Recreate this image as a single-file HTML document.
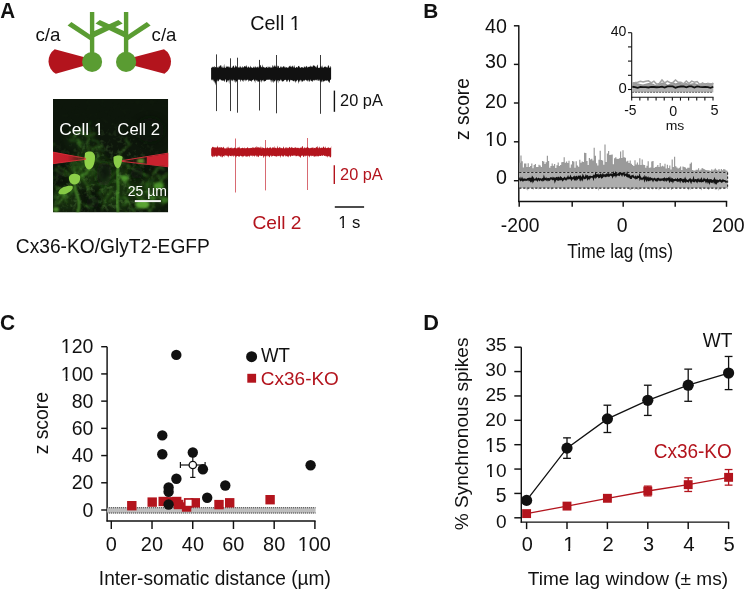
<!DOCTYPE html>
<html><head><meta charset="utf-8"><style>
html,body{margin:0;padding:0;background:#fff;width:745px;height:591px;overflow:hidden}
svg{display:block;will-change:transform}
text{font-family:"Liberation Sans",sans-serif}
</style></head><body>
<svg width="745" height="591" viewBox="0 0 745 591">
<defs><mask id="m1" maskUnits="userSpaceOnUse" x="0" y="0" width="745" height="591"><rect x="0" y="0" width="745" height="591" fill="#fff"/><g fill="#000"><rect x="94.43" y="132.44" width="3.87" height="3.30"/><rect x="100.08" y="132.44" width="3.54" height="3.30"/><rect x="290.39" y="27.44" width="4.30" height="3.56"/><rect x="296.68" y="27.44" width="3.95" height="3.56"/><rect x="338.54" y="225.17" width="3.75" height="3.36"/><rect x="344.00" y="225.17" width="3.42" height="3.36"/><rect x="485.57" y="143.69" width="4.28" height="3.57"/><rect x="491.83" y="143.69" width="3.93" height="3.57"/><rect x="61.33" y="378.06" width="4.26" height="3.56"/><rect x="67.56" y="378.06" width="3.90" height="3.56"/><rect x="61.33" y="350.85" width="4.26" height="3.56"/><rect x="67.56" y="350.85" width="3.90" height="3.56"/><rect x="298.27" y="548.31" width="4.33" height="3.59"/><rect x="304.60" y="548.31" width="3.98" height="3.59"/><rect x="485.61" y="449.21" width="4.23" height="3.55"/><rect x="491.79" y="449.21" width="3.88" height="3.55"/><rect x="485.83" y="474.53" width="4.18" height="3.53"/><rect x="491.94" y="474.53" width="3.83" height="3.53"/><rect x="563.74" y="548.17" width="4.44" height="3.63"/><rect x="570.23" y="548.17" width="4.07" height="3.63"/></g></mask></defs>
<text x="0.19" y="17.90" font-size="21.67" textLength="14.87" lengthAdjust="spacingAndGlyphs" fill="#111" font-weight="bold">A</text>
<line x1="92.10" y1="12.00" x2="92.10" y2="62.00" stroke="#5a9c32" stroke-width="4.4"/>
<line x1="126.10" y1="12.00" x2="126.10" y2="62.00" stroke="#5a9c32" stroke-width="4.4"/>
<polygon points="92.10,32.00 118.40,20.10 122.70,23.40 92.10,38.20" fill="#5a9c32"/>
<polygon points="126.10,32.00 99.80,20.10 95.50,23.40 126.10,38.20" fill="#5a9c32"/>
<polygon points="71.40,22.10 92.10,35.90 92.10,41.50 67.60,25.60" fill="#5a9c32"/>
<polygon points="146.80,22.10 126.10,35.90 126.10,41.50 150.60,25.60" fill="#5a9c32"/>
<path d="M92,59.25 L54.7,49.3 A14.5,14.5 0 0 0 55.8,73.8 L92,63.5 Z" fill="#b3141d"/>
<path d="M126,59.3 L164,49.3 A14.5,14.5 0 0 1 164.5,73.8 L126,63.6 Z" fill="#b3141d"/>
<circle cx="92.1" cy="61.9" r="10" fill="#5a9c32"/>
<circle cx="126.1" cy="61.9" r="10.1" fill="#5a9c32"/>
<text x="35.40" y="41.21" font-size="18.91" textLength="25.03" lengthAdjust="spacingAndGlyphs" fill="#111">c/a</text>
<text x="151.61" y="41.21" font-size="18.91" textLength="24.82" lengthAdjust="spacingAndGlyphs" fill="#111">c/a</text>
<defs>
<filter id="bl1" x="-50%" y="-50%" width="200%" height="200%"><feGaussianBlur stdDeviation="0.6"/></filter>
<filter id="bl3" x="-50%" y="-50%" width="200%" height="200%"><feGaussianBlur stdDeviation="0.9"/></filter>
<filter id="bl2" x="-50%" y="-50%" width="200%" height="200%"><feGaussianBlur stdDeviation="3.5"/></filter>
<filter id="tex" x="0" y="0" width="100%" height="100%">
 <feTurbulence type="fractalNoise" baseFrequency="0.22" numOctaves="3" seed="11" result="n"/>
 <feColorMatrix in="n" type="matrix" values="0 0 0 0 0.26  0 0 0 0 0.60  0 0 0 0 0.14  0 0 0 4.0 -2.0"/>
 <feGaussianBlur stdDeviation="0.6"/>
</filter>
<radialGradient id="tm" cx="0.45" cy="0.78" r="0.6"><stop offset="0" stop-color="#fff" stop-opacity="1"/><stop offset="0.6" stop-color="#fff" stop-opacity="0.6"/><stop offset="1" stop-color="#fff" stop-opacity="0.05"/></radialGradient>
<mask id="texm"><rect x="53" y="99" width="115.2" height="113.4" fill="url(#tm)"/></mask>
<linearGradient id="pipg" x1="53" y1="0" x2="86" y2="0" gradientUnits="userSpaceOnUse"><stop offset="0" stop-color="#c8222e"/><stop offset="0.45" stop-color="#c01e2a"/><stop offset="0.8" stop-color="#a01822" stop-opacity="0.5"/><stop offset="1" stop-color="#901520" stop-opacity="0.3"/></linearGradient>
<clipPath id="pc"><rect x="53" y="99" width="115.2" height="113.4"/></clipPath>
</defs>
<g clip-path="url(#pc)">
<rect x="53" y="99" width="115.2" height="113.4" fill="#0d160b"/>
<ellipse cx="88" cy="170" rx="20" ry="18" fill="#2a6119" opacity="0.35" filter="url(#bl2)"/>
<ellipse cx="118" cy="188" rx="16" ry="24" fill="#2a6119" opacity="0.35" filter="url(#bl2)"/>
<ellipse cx="66" cy="200" rx="14" ry="12" fill="#2a6119" opacity="0.3" filter="url(#bl2)"/>
<ellipse cx="150" cy="192" rx="18" ry="16" fill="#2a6119" opacity="0.3" filter="url(#bl2)"/>
<ellipse cx="80" cy="140" rx="14" ry="10" fill="#1e4614" opacity="0.25" filter="url(#bl2)"/>
<g mask="url(#texm)"><rect x="53" y="99" width="115.2" height="113.4" filter="url(#tex)" opacity="0.28"/></g>
<g filter="url(#bl3)"><polyline points="54.44,144.18 52.12,143.71 51.49,145.42 51.92,147.09" fill="none" stroke="#4a9d2c" stroke-width="1.39" opacity="0.41" stroke-linejoin="round" stroke-linecap="round"/><polyline points="109.98,182.34 112.60,181.10 113.85,180.28 115.69,181.28 118.94,181.76 121.06,182.99 122.53,183.50" fill="none" stroke="#4a9d2c" stroke-width="1.71" opacity="0.35" stroke-linejoin="round" stroke-linecap="round"/><polyline points="70.50,190.59 70.93,192.64 73.33,190.95 74.22,187.91" fill="none" stroke="#3f8f26" stroke-width="1.66" opacity="0.47" stroke-linejoin="round" stroke-linecap="round"/><polyline points="69.24,140.26 71.46,139.72 73.00,140.63 75.07,140.41 77.03,141.01" fill="none" stroke="#3f8f26" stroke-width="1.56" opacity="0.36" stroke-linejoin="round" stroke-linecap="round"/><polyline points="126.28,173.90 126.34,171.26 127.35,169.64 127.19,167.81 129.00,165.75 129.07,162.30 128.07,159.39" fill="none" stroke="#3f8f26" stroke-width="1.05" opacity="0.35" stroke-linejoin="round" stroke-linecap="round"/><polyline points="93.25,149.42 94.27,147.15 97.70,147.25 99.34,148.27 101.37,150.36 104.14,151.04" fill="none" stroke="#3f8f26" stroke-width="1.37" opacity="0.44" stroke-linejoin="round" stroke-linecap="round"/><polyline points="85.15,164.70 83.00,165.96 80.88,167.21 77.83,167.22 76.33,167.56 74.57,168.30 73.25,170.15" fill="none" stroke="#3f8f26" stroke-width="1.38" opacity="0.56" stroke-linejoin="round" stroke-linecap="round"/><polyline points="91.50,204.99 88.37,206.16 85.38,206.12 83.25,203.76" fill="none" stroke="#3f8f26" stroke-width="1.74" opacity="0.53" stroke-linejoin="round" stroke-linecap="round"/><polyline points="150.43,178.41 149.30,180.80 147.86,183.13 146.36,183.94 145.64,186.11 146.06,187.73 145.54,190.20 145.84,193.02" fill="none" stroke="#367d22" stroke-width="1.33" opacity="0.28" stroke-linejoin="round" stroke-linecap="round"/><polyline points="174.63,169.54 176.38,171.43 176.64,173.16 176.41,175.99 175.79,179.43" fill="none" stroke="#4a9d2c" stroke-width="1.14" opacity="0.41" stroke-linejoin="round" stroke-linecap="round"/><polyline points="79.60,156.28 81.81,158.84 83.08,159.66 84.04,161.79 82.68,163.22 80.43,163.70 77.54,164.04 75.74,162.70" fill="none" stroke="#3f8f26" stroke-width="1.77" opacity="0.40" stroke-linejoin="round" stroke-linecap="round"/><polyline points="98.03,201.19 94.82,199.98 92.76,199.25 90.18,197.98" fill="none" stroke="#367d22" stroke-width="1.56" opacity="0.47" stroke-linejoin="round" stroke-linecap="round"/><polyline points="96.16,133.37 94.01,133.50 91.69,134.94 89.48,136.01 87.05,136.87 85.12,134.86 83.78,133.02 80.89,133.56" fill="none" stroke="#367d22" stroke-width="1.08" opacity="0.55" stroke-linejoin="round" stroke-linecap="round"/><polyline points="91.27,139.32 93.20,139.99 95.83,140.99 98.24,141.55" fill="none" stroke="#367d22" stroke-width="1.66" opacity="0.49" stroke-linejoin="round" stroke-linecap="round"/><polyline points="131.02,215.20 131.43,217.22 131.97,219.07 131.81,220.90" fill="none" stroke="#367d22" stroke-width="1.62" opacity="0.56" stroke-linejoin="round" stroke-linecap="round"/><polyline points="81.06,127.69 80.51,130.03 80.01,132.82 77.25,133.30 75.41,135.54 74.09,137.27" fill="none" stroke="#58ad34" stroke-width="1.43" opacity="0.57" stroke-linejoin="round" stroke-linecap="round"/><polyline points="149.60,194.81 151.43,195.69 153.14,197.78 151.49,200.45" fill="none" stroke="#58ad34" stroke-width="1.21" opacity="0.55" stroke-linejoin="round" stroke-linecap="round"/><polyline points="109.24,201.77 110.88,199.72 113.19,198.75 116.45,199.37" fill="none" stroke="#4a9d2c" stroke-width="1.02" opacity="0.47" stroke-linejoin="round" stroke-linecap="round"/><polyline points="120.81,163.73 123.35,163.83 125.87,163.78 127.88,165.99 128.77,167.70" fill="none" stroke="#367d22" stroke-width="1.87" opacity="0.40" stroke-linejoin="round" stroke-linecap="round"/><polyline points="153.51,187.04 155.24,186.32 156.19,187.51 156.11,190.77 157.71,190.81" fill="none" stroke="#58ad34" stroke-width="1.40" opacity="0.33" stroke-linejoin="round" stroke-linecap="round"/><polyline points="83.66,133.51 85.20,133.93 87.36,133.80 88.16,135.07 90.95,135.69 94.00,136.31" fill="none" stroke="#58ad34" stroke-width="1.15" opacity="0.36" stroke-linejoin="round" stroke-linecap="round"/><polyline points="162.00,180.29 162.16,183.08 163.63,184.42 164.34,186.31 161.67,186.02 158.94,186.98 156.79,187.16" fill="none" stroke="#3f8f26" stroke-width="1.12" opacity="0.30" stroke-linejoin="round" stroke-linecap="round"/><polyline points="98.53,154.59 98.06,157.98 96.52,158.54 94.08,159.05 91.34,159.40 89.70,159.49 86.92,161.48" fill="none" stroke="#367d22" stroke-width="1.42" opacity="0.39" stroke-linejoin="round" stroke-linecap="round"/><polyline points="63.02,188.83 60.02,187.87 56.79,188.35 57.48,190.15 56.10,191.75 55.74,193.38 54.84,194.63 55.53,197.95" fill="none" stroke="#367d22" stroke-width="1.78" opacity="0.35" stroke-linejoin="round" stroke-linecap="round"/><polyline points="176.38,189.10 174.42,187.46 173.73,185.01 174.50,183.55" fill="none" stroke="#4a9d2c" stroke-width="1.60" opacity="0.49" stroke-linejoin="round" stroke-linecap="round"/><polyline points="139.91,187.99 137.01,189.28 135.53,190.49 133.32,189.89 129.88,190.16 127.97,190.51" fill="none" stroke="#4a9d2c" stroke-width="1.16" opacity="0.40" stroke-linejoin="round" stroke-linecap="round"/><polyline points="94.29,149.81 94.98,147.95 95.70,146.50 97.06,145.63 99.77,147.05 98.97,149.41" fill="none" stroke="#58ad34" stroke-width="1.45" opacity="0.28" stroke-linejoin="round" stroke-linecap="round"/><polyline points="94.43,170.98 93.11,173.66 90.90,174.15 88.64,174.53 86.36,173.10 83.28,174.29" fill="none" stroke="#4a9d2c" stroke-width="1.95" opacity="0.22" stroke-linejoin="round" stroke-linecap="round"/><polyline points="106.76,174.99 104.62,177.27 105.35,179.25 105.19,180.82 106.56,183.58" fill="none" stroke="#3f8f26" stroke-width="1.05" opacity="0.25" stroke-linejoin="round" stroke-linecap="round"/><polyline points="153.55,196.84 154.64,198.74 154.08,200.14 153.18,203.38 153.20,205.98 151.80,208.53 150.60,211.05 148.11,210.84" fill="none" stroke="#4a9d2c" stroke-width="1.26" opacity="0.55" stroke-linejoin="round" stroke-linecap="round"/><polyline points="68.12,189.93 69.79,188.44 70.96,187.04 70.43,184.15 71.86,181.86 70.69,179.27 69.23,176.22 67.84,174.42" fill="none" stroke="#367d22" stroke-width="1.40" opacity="0.48" stroke-linejoin="round" stroke-linecap="round"/><polyline points="124.77,209.24 125.76,212.47 127.26,213.13 130.16,214.59 132.05,215.70 134.39,217.93 135.99,219.90" fill="none" stroke="#3f8f26" stroke-width="1.15" opacity="0.27" stroke-linejoin="round" stroke-linecap="round"/><polyline points="79.93,142.72 78.75,145.21 78.26,146.77 79.20,148.39 80.49,150.48 82.20,153.05" fill="none" stroke="#58ad34" stroke-width="1.08" opacity="0.22" stroke-linejoin="round" stroke-linecap="round"/><polyline points="153.23,173.88 155.04,171.76 156.24,170.83 156.37,168.72 158.80,167.90 161.57,167.78 163.72,168.96" fill="none" stroke="#58ad34" stroke-width="1.85" opacity="0.53" stroke-linejoin="round" stroke-linecap="round"/><polyline points="74.97,175.33 74.91,172.95 74.31,170.92 72.60,170.78 69.73,169.26 68.95,166.45" fill="none" stroke="#3f8f26" stroke-width="1.60" opacity="0.22" stroke-linejoin="round" stroke-linecap="round"/><polyline points="97.25,149.80 98.66,152.91 97.86,155.34 97.54,157.28" fill="none" stroke="#58ad34" stroke-width="1.50" opacity="0.23" stroke-linejoin="round" stroke-linecap="round"/><polyline points="127.51,200.60 126.60,201.86 125.50,205.17 123.49,203.93 122.51,205.37" fill="none" stroke="#4a9d2c" stroke-width="1.42" opacity="0.46" stroke-linejoin="round" stroke-linecap="round"/><polyline points="90.79,132.16 89.89,129.90 88.52,127.61 88.41,125.17 89.65,123.05 90.67,121.94" fill="none" stroke="#367d22" stroke-width="1.42" opacity="0.37" stroke-linejoin="round" stroke-linecap="round"/><polyline points="109.46,159.26 107.35,159.34 105.15,157.19 103.58,156.07 101.68,154.17 99.31,155.32" fill="none" stroke="#367d22" stroke-width="1.07" opacity="0.31" stroke-linejoin="round" stroke-linecap="round"/><polyline points="146.96,182.78 146.61,184.28 149.41,184.70 151.82,183.97 154.31,182.95" fill="none" stroke="#367d22" stroke-width="1.02" opacity="0.53" stroke-linejoin="round" stroke-linecap="round"/><polyline points="90.86,176.16 92.03,174.71 95.20,175.26 96.22,176.50 97.08,178.72" fill="none" stroke="#58ad34" stroke-width="1.21" opacity="0.27" stroke-linejoin="round" stroke-linecap="round"/><polyline points="74.46,174.72 75.20,172.31 74.68,170.52 73.86,168.15 72.84,166.24 73.20,164.60 73.82,161.50" fill="none" stroke="#4a9d2c" stroke-width="1.87" opacity="0.37" stroke-linejoin="round" stroke-linecap="round"/><polyline points="82.00,171.17 82.54,174.51 81.92,177.88 80.17,179.73 77.98,180.20 76.43,179.48 75.10,178.65 74.89,175.95" fill="none" stroke="#367d22" stroke-width="1.53" opacity="0.55" stroke-linejoin="round" stroke-linecap="round"/><polyline points="157.00,193.88 155.37,196.15 153.22,197.03 150.58,197.60 149.52,195.86" fill="none" stroke="#3f8f26" stroke-width="1.14" opacity="0.47" stroke-linejoin="round" stroke-linecap="round"/><polyline points="117.23,193.36 116.59,195.35 118.28,196.49 120.33,198.36 123.24,197.90 125.84,198.49 127.94,198.95" fill="none" stroke="#3f8f26" stroke-width="1.74" opacity="0.34" stroke-linejoin="round" stroke-linecap="round"/><polyline points="179.91,183.43 177.75,182.92 175.65,182.02 173.60,182.71" fill="none" stroke="#367d22" stroke-width="1.10" opacity="0.33" stroke-linejoin="round" stroke-linecap="round"/><polyline points="145.88,176.68 143.84,174.35 142.23,173.49 141.22,171.69 140.59,169.00 139.38,167.87 136.13,167.79 134.72,165.23" fill="none" stroke="#367d22" stroke-width="1.01" opacity="0.55" stroke-linejoin="round" stroke-linecap="round"/><polyline points="100.06,190.66 100.59,192.39 100.26,194.37 100.27,196.25 103.15,197.16 103.44,199.44 104.71,201.77 107.12,204.10" fill="none" stroke="#367d22" stroke-width="1.59" opacity="0.38" stroke-linejoin="round" stroke-linecap="round"/><polyline points="85.99,187.94 87.82,187.99 88.70,185.90 90.69,184.29 92.80,183.73" fill="none" stroke="#367d22" stroke-width="1.83" opacity="0.24" stroke-linejoin="round" stroke-linecap="round"/><polyline points="70.52,164.48 71.01,161.38 71.74,158.96 72.64,155.59 70.37,156.21 69.92,158.96" fill="none" stroke="#367d22" stroke-width="1.06" opacity="0.46" stroke-linejoin="round" stroke-linecap="round"/><polyline points="66.70,201.67 65.38,199.31 64.69,197.27 62.96,195.69" fill="none" stroke="#4a9d2c" stroke-width="1.83" opacity="0.42" stroke-linejoin="round" stroke-linecap="round"/><polyline points="147.46,194.60 148.83,195.94 150.91,198.72 151.51,201.09" fill="none" stroke="#3f8f26" stroke-width="1.88" opacity="0.39" stroke-linejoin="round" stroke-linecap="round"/><polyline points="157.74,174.64 159.37,176.30 162.61,176.44 164.91,177.72 167.74,175.99" fill="none" stroke="#58ad34" stroke-width="1.36" opacity="0.35" stroke-linejoin="round" stroke-linecap="round"/><polyline points="64.73,173.44 62.51,173.90 59.37,172.59 56.90,170.57 56.18,168.77" fill="none" stroke="#4a9d2c" stroke-width="1.98" opacity="0.55" stroke-linejoin="round" stroke-linecap="round"/><polyline points="100.74,188.56 101.07,186.98 101.70,184.74 103.79,184.06 104.51,181.96 105.87,178.74 106.96,176.85" fill="none" stroke="#367d22" stroke-width="1.30" opacity="0.38" stroke-linejoin="round" stroke-linecap="round"/><polyline points="66.99,196.84 68.94,195.88 71.00,193.48 71.87,190.62 72.48,188.78" fill="none" stroke="#4a9d2c" stroke-width="1.32" opacity="0.43" stroke-linejoin="round" stroke-linecap="round"/><polyline points="47.85,181.50 47.27,179.78 47.98,176.63 50.16,174.95 52.62,176.29 52.60,177.91 51.51,179.24 52.52,182.03" fill="none" stroke="#367d22" stroke-width="1.58" opacity="0.56" stroke-linejoin="round" stroke-linecap="round"/><polyline points="137.68,195.54 140.84,196.72 142.83,198.56 143.37,201.52 144.83,203.93 147.07,203.93" fill="none" stroke="#58ad34" stroke-width="1.13" opacity="0.47" stroke-linejoin="round" stroke-linecap="round"/><polyline points="98.00,141.96 99.15,144.58 101.04,145.93 103.38,147.51" fill="none" stroke="#367d22" stroke-width="1.53" opacity="0.51" stroke-linejoin="round" stroke-linecap="round"/><polyline points="167.69,156.15 168.04,153.36 169.35,150.28 170.75,147.92 173.84,148.54 176.10,150.42 178.20,152.06" fill="none" stroke="#4a9d2c" stroke-width="1.43" opacity="0.56" stroke-linejoin="round" stroke-linecap="round"/><polyline points="149.21,161.71 146.98,162.97 144.58,163.98 141.84,162.24" fill="none" stroke="#4a9d2c" stroke-width="1.88" opacity="0.25" stroke-linejoin="round" stroke-linecap="round"/><polyline points="108.26,180.48 108.22,183.20 107.42,185.63 105.58,188.19 104.74,190.95 104.09,192.98" fill="none" stroke="#58ad34" stroke-width="1.74" opacity="0.36" stroke-linejoin="round" stroke-linecap="round"/><polyline points="110.47,177.13 107.07,177.13 105.30,179.89 104.80,181.59 102.94,183.91 102.40,181.64 102.57,178.46 104.54,176.10" fill="none" stroke="#4a9d2c" stroke-width="1.37" opacity="0.48" stroke-linejoin="round" stroke-linecap="round"/><polyline points="71.33,129.97 70.56,132.19 69.97,134.39 71.55,137.37 72.43,140.33 70.68,142.79" fill="none" stroke="#3f8f26" stroke-width="1.05" opacity="0.21" stroke-linejoin="round" stroke-linecap="round"/><polyline points="59.26,193.99 61.83,194.78 64.18,193.60 66.67,193.26" fill="none" stroke="#58ad34" stroke-width="1.81" opacity="0.53" stroke-linejoin="round" stroke-linecap="round"/><polyline points="156.36,176.07 158.15,175.98 159.47,177.65 160.45,180.01 161.55,181.70 162.05,184.94 161.82,188.29 164.92,189.92" fill="none" stroke="#4a9d2c" stroke-width="1.28" opacity="0.40" stroke-linejoin="round" stroke-linecap="round"/><polyline points="77.22,143.51 79.78,142.06 83.01,142.84 83.93,145.04 83.16,148.25 84.40,151.03 87.03,153.19" fill="none" stroke="#4a9d2c" stroke-width="1.48" opacity="0.34" stroke-linejoin="round" stroke-linecap="round"/><polyline points="102.93,179.52 101.22,177.20 99.88,175.40 98.34,173.34" fill="none" stroke="#58ad34" stroke-width="1.94" opacity="0.45" stroke-linejoin="round" stroke-linecap="round"/><polyline points="143.58,214.68 145.79,217.12 147.99,218.55 150.08,219.10 151.83,220.76" fill="none" stroke="#4a9d2c" stroke-width="1.65" opacity="0.58" stroke-linejoin="round" stroke-linecap="round"/><polyline points="101.65,203.03 98.60,202.13 96.93,201.06 93.89,202.22 92.30,204.92 90.57,207.45 91.16,210.25" fill="none" stroke="#367d22" stroke-width="1.94" opacity="0.37" stroke-linejoin="round" stroke-linecap="round"/><polyline points="90.02,146.65 91.89,148.53 92.67,151.82 91.41,153.52 89.63,154.03 88.92,155.47 86.70,157.52" fill="none" stroke="#58ad34" stroke-width="1.09" opacity="0.52" stroke-linejoin="round" stroke-linecap="round"/><polyline points="120.04,155.69 120.65,157.24 122.88,158.30 123.85,160.30 122.45,162.48" fill="none" stroke="#58ad34" stroke-width="1.45" opacity="0.51" stroke-linejoin="round" stroke-linecap="round"/><polyline points="137.58,209.26 137.47,207.62 136.57,205.13 134.79,203.22" fill="none" stroke="#58ad34" stroke-width="1.96" opacity="0.33" stroke-linejoin="round" stroke-linecap="round"/><polyline points="154.40,177.48 153.14,179.19 152.12,182.06 150.04,182.91 148.15,182.94 146.76,183.79 143.48,183.26" fill="none" stroke="#367d22" stroke-width="1.13" opacity="0.51" stroke-linejoin="round" stroke-linecap="round"/><polyline points="148.50,200.99 145.30,202.11 143.55,202.52 141.15,201.82 138.37,202.02 136.17,202.99 135.38,204.95" fill="none" stroke="#367d22" stroke-width="1.18" opacity="0.55" stroke-linejoin="round" stroke-linecap="round"/><polyline points="96.10,183.85 98.44,184.61 101.56,184.69 103.16,186.41 103.17,188.52 101.89,190.76 99.67,192.84 97.05,193.50" fill="none" stroke="#3f8f26" stroke-width="1.78" opacity="0.34" stroke-linejoin="round" stroke-linecap="round"/><polyline points="80.22,145.86 79.99,144.33 79.24,141.01 77.53,139.39" fill="none" stroke="#4a9d2c" stroke-width="1.97" opacity="0.59" stroke-linejoin="round" stroke-linecap="round"/><polyline points="88.45,173.20 89.45,171.90 89.36,170.00 89.51,167.41 87.91,166.26" fill="none" stroke="#367d22" stroke-width="1.13" opacity="0.21" stroke-linejoin="round" stroke-linecap="round"/><polyline points="75.85,208.58 76.52,211.30 77.33,212.60 77.48,215.26" fill="none" stroke="#367d22" stroke-width="1.08" opacity="0.40" stroke-linejoin="round" stroke-linecap="round"/><polyline points="129.91,144.77 128.37,143.49 127.24,141.74 125.61,139.65" fill="none" stroke="#4a9d2c" stroke-width="1.60" opacity="0.54" stroke-linejoin="round" stroke-linecap="round"/><polyline points="152.25,199.38 153.88,198.61 155.64,197.72 158.42,197.56 161.59,197.76 164.28,199.57 163.90,203.01 162.24,204.74" fill="none" stroke="#58ad34" stroke-width="1.68" opacity="0.32" stroke-linejoin="round" stroke-linecap="round"/><polyline points="147.23,183.08 148.03,186.39 147.68,188.53 148.55,191.67 146.37,192.76 143.26,192.25 139.88,192.35 137.67,191.56" fill="none" stroke="#367d22" stroke-width="1.38" opacity="0.46" stroke-linejoin="round" stroke-linecap="round"/><polyline points="99.16,171.57 97.72,172.99 96.12,172.55 93.67,173.20 91.29,170.93 90.35,169.27" fill="none" stroke="#4a9d2c" stroke-width="1.13" opacity="0.55" stroke-linejoin="round" stroke-linecap="round"/><polyline points="143.77,187.21 145.32,186.35 147.88,186.49 149.87,187.76 150.98,189.01 151.50,190.79 152.66,193.64 155.82,194.59" fill="none" stroke="#4a9d2c" stroke-width="1.35" opacity="0.28" stroke-linejoin="round" stroke-linecap="round"/><polyline points="141.28,205.52 139.15,206.96 137.60,207.60 134.81,209.59 131.47,209.78" fill="none" stroke="#367d22" stroke-width="1.95" opacity="0.44" stroke-linejoin="round" stroke-linecap="round"/></g>
<polyline points="89.00,168.00 86.00,174.00 80.00,176.00" fill="none" stroke="#4f9d2c" stroke-width="1.5" opacity="0.5" filter="url(#bl3)" stroke-linecap="round"/>
<polyline points="74.50,184.00 76.00,192.00 79.00,200.00 79.50,207.00 78.00,212.00" fill="none" stroke="#4f9d2c" stroke-width="1.5" opacity="0.5" filter="url(#bl3)" stroke-linecap="round"/>
<polyline points="60.00,193.00 57.00,200.00 54.00,206.00" fill="none" stroke="#4f9d2c" stroke-width="1.5" opacity="0.5" filter="url(#bl3)" stroke-linecap="round"/>
<polyline points="118.00,168.00 117.00,178.00 118.00,188.00 117.00,198.00 118.00,212.00" fill="none" stroke="#4f9d2c" stroke-width="1.5" opacity="0.5" filter="url(#bl3)" stroke-linecap="round"/>
<polyline points="118.00,170.00 112.00,176.00 106.00,180.00" fill="none" stroke="#4f9d2c" stroke-width="1.5" opacity="0.5" filter="url(#bl3)" stroke-linecap="round"/>
<polyline points="125.00,180.00 131.00,190.00 140.00,200.00" fill="none" stroke="#4f9d2c" stroke-width="1.5" opacity="0.5" filter="url(#bl3)" stroke-linecap="round"/>
<polyline points="95.00,160.00 104.00,163.00 113.00,162.00" fill="none" stroke="#4f9d2c" stroke-width="1.5" opacity="0.5" filter="url(#bl3)" stroke-linecap="round"/>
<polyline points="70.00,175.00 64.00,170.00 58.00,167.00" fill="none" stroke="#4f9d2c" stroke-width="1.5" opacity="0.5" filter="url(#bl3)" stroke-linecap="round"/>
<polyline points="89.00,152.00 87.00,145.00 89.00,138.00" fill="none" stroke="#4f9d2c" stroke-width="1.5" opacity="0.5" filter="url(#bl3)" stroke-linecap="round"/>
<polyline points="118.00,156.00 123.00,150.00 128.00,146.00" fill="none" stroke="#4f9d2c" stroke-width="1.5" opacity="0.5" filter="url(#bl3)" stroke-linecap="round"/>
<polyline points="143.00,204.00 150.00,210.00" fill="none" stroke="#4f9d2c" stroke-width="1.5" opacity="0.5" filter="url(#bl3)" stroke-linecap="round"/>
<polyline points="159.00,184.00 164.00,177.00 168.00,173.00" fill="none" stroke="#4f9d2c" stroke-width="1.5" opacity="0.5" filter="url(#bl3)" stroke-linecap="round"/>
<polyline points="59.00,189.00 55.00,186.00" fill="none" stroke="#4f9d2c" stroke-width="1.5" opacity="0.5" filter="url(#bl3)" stroke-linecap="round"/>
<polyline points="74.00,178.00 80.00,170.00 85.00,166.00" fill="none" stroke="#4f9d2c" stroke-width="1.5" opacity="0.5" filter="url(#bl3)" stroke-linecap="round"/>
<polyline points="82.00,178.00 88.00,186.00 90.00,196.00" fill="none" stroke="#4f9d2c" stroke-width="1.5" opacity="0.5" filter="url(#bl3)" stroke-linecap="round"/>
<polyline points="128.00,166.00 138.00,172.00 148.00,176.00" fill="none" stroke="#4f9d2c" stroke-width="1.5" opacity="0.5" filter="url(#bl3)" stroke-linecap="round"/>
<polyline points="112.00,190.00 106.00,198.00 102.00,210.00" fill="none" stroke="#4f9d2c" stroke-width="1.5" opacity="0.5" filter="url(#bl3)" stroke-linecap="round"/>
<polyline points="124.00,196.00 130.00,205.00 134.00,212.00" fill="none" stroke="#4f9d2c" stroke-width="1.5" opacity="0.5" filter="url(#bl3)" stroke-linecap="round"/>
<polyline points="74.50,184.00 76.00,192.00 78.50,200.00 79.00,207.00 78.00,212.00" fill="none" stroke="#5fb238" stroke-width="2.4" opacity="0.56" filter="url(#bl3)" stroke-linecap="round"/>
<polyline points="118.00,168.00 117.50,178.00 118.50,188.00 117.00,198.00 118.00,212.00" fill="none" stroke="#5fb238" stroke-width="2.4" opacity="0.56" filter="url(#bl3)" stroke-linecap="round"/>
<polyline points="66.00,193.00 62.00,199.00 58.00,204.00" fill="none" stroke="#5fb238" stroke-width="2.0" opacity="0.49" filter="url(#bl3)" stroke-linecap="round"/>
<polyline points="120.00,176.00 126.00,178.00" fill="none" stroke="#5fb238" stroke-width="2.2" opacity="0.49" filter="url(#bl3)" stroke-linecap="round"/>
<polyline points="89.00,169.00 86.00,174.00 80.00,176.00" fill="none" stroke="#5fb238" stroke-width="1.9" opacity="0.42" filter="url(#bl3)" stroke-linecap="round"/>
<ellipse cx="104" cy="174" rx="8" ry="12" fill="#0b130a" opacity="0.9" filter="url(#bl2)"/>
<ellipse cx="137" cy="173" rx="7" ry="6" fill="#0b130a" opacity="0.8" filter="url(#bl2)"/>
<ellipse cx="93" cy="202" rx="7" ry="6" fill="#0b130a" opacity="0.7" filter="url(#bl2)"/>
<ellipse cx="60" cy="173" rx="5" ry="6" fill="#0b130a" opacity="0.6" filter="url(#bl2)"/>
<ellipse cx="160" cy="162" rx="6" ry="4" fill="#0b130a" opacity="0.5" filter="url(#bl2)"/>
<ellipse cx="150" cy="130" rx="14" ry="12" fill="#0b130a" opacity="0.6" filter="url(#bl2)"/>
<path d="M85,153 C90,150 95,152 95,157 C95,163 93,169 89,169.5 C85,169 84,163 84.5,158 Z" fill="#90d24a" filter="url(#bl1)"/>
<path d="M113.5,157 C116,155 121,155 122.6,157 C122,162 121,167 118,168.5 C115,168 113,163 113.5,157 Z" fill="#8acd48" filter="url(#bl1)"/>
<path d="M69,177 C70,173 77,172.5 80,176 C81,181 78,185 74,184.5 C70,184 68.5,180 69,177 Z" fill="#8ccf48" filter="url(#bl1)"/>
<path d="M58.5,192 C60,187 68,185 72.5,186 C74,189 70,193 64,194.2 C60,194.5 58,194 58.5,192 Z" fill="#86ca45" filter="url(#bl1)"/>
<ellipse cx="142.6" cy="204.5" rx="7" ry="4" transform="rotate(0 142.6 204.5)" fill="#62b038" opacity="0.9" filter="url(#bl3)"/>
<ellipse cx="124.8" cy="178.3" rx="4" ry="3" transform="rotate(0 124.8 178.3)" fill="#55a530" opacity="0.8" filter="url(#bl3)"/>
<ellipse cx="158.4" cy="185.7" rx="5" ry="3.5" transform="rotate(0 158.4 185.7)" fill="#55a530" opacity="0.8" filter="url(#bl3)"/>
<ellipse cx="140.5" cy="161" rx="3.5" ry="2.5" transform="rotate(0 140.5 161)" fill="#5fae35" opacity="0.9" filter="url(#bl3)"/>
<ellipse cx="56" cy="209.5" rx="3" ry="2.5" transform="rotate(0 56 209.5)" fill="#5fae35" opacity="0.8" filter="url(#bl3)"/>
<ellipse cx="165" cy="200" rx="4" ry="3" transform="rotate(0 165 200)" fill="#4a9a2a" opacity="0.6" filter="url(#bl3)"/>
<polygon points="53,152.1 85.5,158.3 85.5,159.3 53,163.7" fill="url(#pipg)"/>
<polygon points="53,152.1 85.5,158.3 85.5,159.3 53,163.7" fill="none" stroke="#e8303c" stroke-width="0.8"/>
<polygon points="168.5,153.1 122.2,160.6 122.2,161.4 168.5,166.8" fill="#c42430" fill-opacity="0.12" stroke="#e0303e" stroke-width="0.9"/>
<polygon points="168.5,153.6 146.8,157.0 146.8,164.6 168.5,166.2" fill="#c8222e" filter="url(#bl1)"/>
</g>
<g mask="url(#m1)"><text x="59.33" y="134.74" font-size="16.05" textLength="44.39" lengthAdjust="spacingAndGlyphs" fill="#fff">Cell 1</text></g>
<text x="117.37" y="134.74" font-size="16.05" textLength="42.60" lengthAdjust="spacingAndGlyphs" fill="#fff">Cell 2</text>
<text x="127.70" y="195.80" font-size="14.19" textLength="39.20" lengthAdjust="spacingAndGlyphs" fill="#fff">25 µm</text>
<line x1="134.80" y1="201.10" x2="160.90" y2="201.10" stroke="#f4f4f4" stroke-width="2"/>
<g mask="url(#m1)"><text x="250.31" y="30.00" font-size="19.59" textLength="50.52" lengthAdjust="spacingAndGlyphs" fill="#111">Cell 1</text></g>
<line x1="216.50" y1="54.40" x2="216.50" y2="111.10" stroke="#3a3a3a" stroke-width="1.0"/>
<line x1="230.50" y1="58.30" x2="230.50" y2="111.10" stroke="#3a3a3a" stroke-width="1.0"/>
<line x1="237.50" y1="57.70" x2="237.50" y2="112.70" stroke="#3a3a3a" stroke-width="1.0"/>
<line x1="259.50" y1="59.90" x2="259.50" y2="110.50" stroke="#3a3a3a" stroke-width="1.0"/>
<line x1="276.50" y1="55.00" x2="276.50" y2="113.30" stroke="#3a3a3a" stroke-width="1.0"/>
<line x1="320.50" y1="55.00" x2="320.50" y2="113.80" stroke="#3a3a3a" stroke-width="1.0"/>
<polygon points="211.10,68.10 211.60,67.59 212.10,67.63 212.60,66.59 213.10,67.33 213.60,66.41 214.10,68.00 214.60,65.82 215.10,67.26 215.60,67.05 216.10,67.27 216.60,67.49 217.10,67.92 217.60,66.52 218.10,68.05 218.60,66.92 219.10,65.81 219.60,67.32 220.10,64.87 220.60,65.91 221.10,64.97 221.60,67.70 222.10,65.95 222.60,67.64 223.10,67.83 223.60,67.78 224.10,63.82 224.60,67.18 225.10,68.02 225.60,67.91 226.10,65.50 226.60,67.29 227.10,66.44 227.60,66.72 228.10,66.30 228.60,66.73 229.10,68.04 229.60,66.60 230.10,67.11 230.60,67.91 231.10,67.91 231.60,67.99 232.10,66.02 232.60,67.97 233.10,65.79 233.60,65.47 234.10,66.64 234.60,67.90 235.10,67.01 235.60,64.70 236.10,66.80 236.60,66.06 237.10,67.97 237.60,67.12 238.10,67.78 238.60,66.94 239.10,67.99 239.60,66.97 240.10,65.65 240.60,66.95 241.10,67.75 241.60,67.31 242.10,67.88 242.60,66.08 243.10,67.12 243.60,67.77 244.10,66.57 244.60,66.15 245.10,65.85 245.60,66.75 246.10,67.00 246.60,64.71 247.10,67.31 247.60,67.93 248.10,65.96 248.60,66.93 249.10,67.54 249.60,67.47 250.10,67.67 250.60,65.51 251.10,67.37 251.60,67.58 252.10,67.50 252.60,67.89 253.10,67.76 253.60,66.21 254.10,68.08 254.60,67.35 255.10,66.12 255.60,66.99 256.10,68.06 256.60,66.96 257.10,67.52 257.60,66.31 258.10,68.09 258.60,67.11 259.10,65.91 259.60,67.51 260.10,65.23 260.60,64.64 261.10,67.58 261.60,66.57 262.10,67.82 262.60,64.28 263.10,66.69 263.60,67.04 264.10,67.75 264.60,67.26 265.10,67.80 265.60,67.75 266.10,66.91 266.60,67.22 267.10,66.34 267.60,67.97 268.10,68.04 268.60,66.31 269.10,67.66 269.60,66.64 270.10,66.45 270.60,67.77 271.10,67.95 271.60,67.10 272.10,67.90 272.60,64.70 273.10,66.18 273.60,67.48 274.10,64.48 274.60,66.66 275.10,65.13 275.60,66.81 276.10,66.66 276.60,66.78 277.10,67.88 277.60,65.49 278.10,65.98 278.60,65.65 279.10,67.99 279.60,67.63 280.10,67.83 280.60,66.44 281.10,66.23 281.60,67.18 282.10,68.01 282.60,66.75 283.10,67.04 283.60,65.93 284.10,65.96 284.60,67.84 285.10,66.46 285.60,68.08 286.10,66.92 286.60,67.54 287.10,67.15 287.60,68.09 288.10,67.46 288.60,67.59 289.10,65.76 289.60,66.73 290.10,65.29 290.60,66.96 291.10,66.31 291.60,67.53 292.10,65.71 292.60,65.63 293.10,67.75 293.60,67.03 294.10,65.11 294.60,66.85 295.10,68.06 295.60,67.98 296.10,66.82 296.60,67.33 297.10,67.18 297.60,67.86 298.10,66.22 298.60,66.03 299.10,65.83 299.60,67.24 300.10,67.60 300.60,68.04 301.10,67.35 301.60,67.24 302.10,67.03 302.60,67.59 303.10,67.84 303.60,68.06 304.10,66.10 304.60,66.94 305.10,67.45 305.60,67.14 306.10,65.75 306.60,66.49 307.10,66.46 307.60,67.86 308.10,67.18 308.60,66.77 309.10,66.69 309.60,66.53 310.10,67.33 310.60,65.52 311.10,65.98 311.60,66.64 312.10,67.26 312.60,66.61 313.10,64.91 313.60,65.58 314.10,66.15 314.60,65.23 315.10,66.71 315.60,66.37 316.10,68.08 316.60,66.67 317.10,65.31 317.60,64.51 318.10,67.66 318.60,68.02 319.10,67.68 319.60,68.03 320.10,66.64 320.60,65.53 321.10,67.82 321.60,66.45 322.10,65.31 322.60,67.24 323.10,68.00 323.60,67.41 324.10,66.42 324.60,66.98 325.10,66.40 325.60,66.59 326.10,67.77 326.60,66.77 327.10,67.49 327.60,67.52 328.10,64.66 328.60,65.73 329.10,66.59 329.60,67.95 330.10,68.08 330.60,65.64 331.10,67.32 331.10,79.36 330.60,79.76 330.10,79.91 329.60,82.84 329.10,82.79 328.60,81.60 328.10,81.15 327.60,80.12 327.10,80.74 326.60,80.41 326.10,80.67 325.60,80.83 325.10,80.02 324.60,81.45 324.10,80.71 323.60,81.37 323.10,82.20 322.60,81.40 322.10,79.41 321.60,82.73 321.10,81.35 320.60,80.54 320.10,82.57 319.60,79.37 319.10,81.02 318.60,81.12 318.10,79.40 317.60,79.49 317.10,81.36 316.60,79.39 316.10,80.45 315.60,79.59 315.10,80.42 314.60,80.73 314.10,79.73 313.60,80.03 313.10,80.78 312.60,82.15 312.10,80.28 311.60,80.92 311.10,81.16 310.60,80.53 310.10,79.31 309.60,82.21 309.10,80.98 308.60,79.39 308.10,81.75 307.60,81.25 307.10,79.88 306.60,80.87 306.10,80.32 305.60,79.39 305.10,80.17 304.60,80.25 304.10,81.28 303.60,79.94 303.10,81.34 302.60,81.68 302.10,81.17 301.60,80.03 301.10,82.48 300.60,79.61 300.10,80.53 299.60,82.32 299.10,79.63 298.60,84.12 298.10,81.44 297.60,79.86 297.10,80.03 296.60,81.85 296.10,80.44 295.60,81.86 295.10,82.91 294.60,80.18 294.10,80.83 293.60,81.07 293.10,81.61 292.60,79.70 292.10,81.26 291.60,80.02 291.10,80.04 290.60,79.63 290.10,80.79 289.60,82.59 289.10,81.20 288.60,79.71 288.10,79.66 287.60,80.81 287.10,82.04 286.60,81.77 286.10,79.94 285.60,80.04 285.10,79.55 284.60,80.28 284.10,80.20 283.60,81.36 283.10,81.32 282.60,81.41 282.10,81.49 281.60,79.52 281.10,81.49 280.60,79.64 280.10,79.41 279.60,81.52 279.10,80.78 278.60,79.71 278.10,83.59 277.60,80.51 277.10,80.59 276.60,80.01 276.10,82.55 275.60,79.58 275.10,80.64 274.60,80.92 274.10,81.98 273.60,83.00 273.10,80.04 272.60,82.50 272.10,79.41 271.60,80.42 271.10,82.85 270.60,80.26 270.10,79.46 269.60,79.69 269.10,79.38 268.60,79.87 268.10,79.86 267.60,79.71 267.10,79.69 266.60,79.86 266.10,80.26 265.60,80.93 265.10,81.09 264.60,81.12 264.10,82.11 263.60,79.38 263.10,81.87 262.60,80.43 262.10,79.67 261.60,83.01 261.10,80.35 260.60,79.79 260.10,82.20 259.60,81.35 259.10,81.02 258.60,81.73 258.10,81.40 257.60,81.67 257.10,79.91 256.60,81.29 256.10,79.69 255.60,79.79 255.10,83.13 254.60,80.18 254.10,81.19 253.60,79.30 253.10,79.66 252.60,80.44 252.10,79.90 251.60,82.20 251.10,80.40 250.60,80.76 250.10,80.98 249.60,80.92 249.10,79.75 248.60,82.33 248.10,79.51 247.60,79.72 247.10,79.73 246.60,80.05 246.10,80.96 245.60,79.43 245.10,81.41 244.60,79.96 244.10,79.43 243.60,80.26 243.10,82.35 242.60,80.51 242.10,80.40 241.60,79.41 241.10,80.36 240.60,82.17 240.10,79.40 239.60,79.69 239.10,79.78 238.60,79.71 238.10,79.51 237.60,80.57 237.10,81.04 236.60,81.13 236.10,82.28 235.60,82.75 235.10,80.04 234.60,80.35 234.10,82.21 233.60,79.31 233.10,79.94 232.60,81.56 232.10,79.64 231.60,79.81 231.10,81.35 230.60,79.46 230.10,79.42 229.60,79.78 229.10,84.27 228.60,80.02 228.10,80.77 227.60,80.18 227.10,82.07 226.60,82.57 226.10,81.82 225.60,79.31 225.10,79.56 224.60,81.71 224.10,81.38 223.60,80.60 223.10,80.27 222.60,81.28 222.10,79.71 221.60,80.35 221.10,80.83 220.60,79.37 220.10,79.40 219.60,79.39 219.10,79.60 218.60,81.45 218.10,81.09 217.60,81.53 217.10,79.39 216.60,81.83 216.10,80.31 215.60,85.48 215.10,83.04 214.60,80.61 214.10,83.48 213.60,79.34 213.10,81.49 212.60,79.85 212.10,79.45 211.60,79.46 211.10,80.71" fill="#111"/>
<line x1="334.40" y1="90.60" x2="334.40" y2="111.80" stroke="#111" stroke-width="1.4"/>
<text x="340.08" y="105.76" font-size="16.57" textLength="42.73" lengthAdjust="spacingAndGlyphs" fill="#111">20 pA</text>
<line x1="235.50" y1="138.50" x2="235.50" y2="192.50" stroke="#d86a72" stroke-width="1.0"/>
<line x1="265.50" y1="140.00" x2="265.50" y2="190.40" stroke="#d86a72" stroke-width="1.0"/>
<line x1="307.50" y1="138.00" x2="307.50" y2="190.00" stroke="#d86a72" stroke-width="1.0"/>
<polygon points="211.20,148.32 211.70,148.45 212.20,146.40 212.70,147.36 213.20,146.79 213.70,147.39 214.20,147.03 214.70,147.68 215.20,147.60 215.70,147.44 216.20,146.97 216.70,148.11 217.20,146.97 217.70,145.40 218.20,147.92 218.70,147.32 219.20,147.36 219.70,147.31 220.20,148.19 220.70,146.84 221.20,147.43 221.70,146.98 222.20,147.60 222.70,148.06 223.20,147.54 223.70,146.42 224.20,148.07 224.70,148.47 225.20,148.41 225.70,148.40 226.20,147.27 226.70,148.43 227.20,148.46 227.70,147.08 228.20,146.45 228.70,148.35 229.20,147.66 229.70,148.43 230.20,147.83 230.70,147.68 231.20,148.44 231.70,147.35 232.20,147.83 232.70,148.39 233.20,148.22 233.70,148.30 234.20,147.70 234.70,147.46 235.20,148.24 235.70,147.90 236.20,148.24 236.70,148.50 237.20,147.00 237.70,148.43 238.20,147.02 238.70,147.82 239.20,148.18 239.70,146.22 240.20,148.40 240.70,148.33 241.20,148.33 241.70,148.03 242.20,148.09 242.70,147.43 243.20,148.20 243.70,147.89 244.20,148.40 244.70,147.18 245.20,148.24 245.70,148.34 246.20,148.34 246.70,148.02 247.20,147.89 247.70,146.67 248.20,147.99 248.70,148.23 249.20,148.19 249.70,148.08 250.20,147.78 250.70,148.21 251.20,147.80 251.70,148.03 252.20,148.27 252.70,146.83 253.20,147.91 253.70,147.21 254.20,147.39 254.70,148.24 255.20,146.79 255.70,147.46 256.20,148.34 256.70,145.71 257.20,148.09 257.70,146.86 258.20,147.07 258.70,147.80 259.20,147.10 259.70,148.09 260.20,148.20 260.70,146.58 261.20,146.75 261.70,148.39 262.20,148.23 262.70,147.11 263.20,147.74 263.70,148.03 264.20,148.06 264.70,148.38 265.20,147.41 265.70,147.65 266.20,148.44 266.70,147.70 267.20,147.86 267.70,147.32 268.20,148.06 268.70,148.16 269.20,148.10 269.70,147.40 270.20,146.70 270.70,147.86 271.20,148.44 271.70,148.16 272.20,146.63 272.70,148.10 273.20,147.84 273.70,147.55 274.20,146.02 274.70,148.13 275.20,147.51 275.70,148.08 276.20,147.84 276.70,148.48 277.20,147.67 277.70,145.46 278.20,148.36 278.70,147.90 279.20,147.75 279.70,146.63 280.20,147.25 280.70,148.16 281.20,148.17 281.70,147.63 282.20,147.91 282.70,148.46 283.20,147.50 283.70,146.35 284.20,148.32 284.70,148.45 285.20,148.28 285.70,147.02 286.20,148.47 286.70,146.88 287.20,147.44 287.70,148.30 288.20,148.28 288.70,147.63 289.20,147.35 289.70,146.84 290.20,147.49 290.70,148.13 291.20,147.78 291.70,146.83 292.20,147.36 292.70,147.96 293.20,147.96 293.70,147.98 294.20,147.37 294.70,148.24 295.20,147.29 295.70,147.50 296.20,147.56 296.70,148.27 297.20,147.73 297.70,147.76 298.20,148.21 298.70,147.48 299.20,148.42 299.70,148.11 300.20,147.49 300.70,147.80 301.20,148.02 301.70,147.17 302.20,146.04 302.70,146.30 303.20,148.43 303.70,148.26 304.20,146.81 304.70,148.36 305.20,147.43 305.70,148.37 306.20,148.00 306.70,147.59 307.20,146.69 307.70,146.92 308.20,147.77 308.70,147.67 309.20,148.34 309.70,148.27 310.20,147.82 310.70,148.13 311.20,147.95 311.70,147.52 312.20,148.10 312.70,147.37 313.20,147.26 313.70,148.47 314.20,147.69 314.70,148.11 315.20,148.26 315.70,147.73 316.20,146.74 316.70,147.36 317.20,148.08 317.70,145.71 318.20,147.45 318.70,148.38 319.20,147.72 319.70,146.24 320.20,148.24 320.70,148.10 321.20,147.17 321.70,147.96 322.20,147.76 322.70,147.94 323.20,146.38 323.70,146.62 324.20,147.88 324.70,147.75 325.20,146.27 325.70,147.80 326.20,148.29 326.70,148.02 327.20,147.75 327.70,148.12 328.20,146.64 328.70,148.10 329.20,147.68 329.70,148.14 330.20,147.84 330.70,148.12 331.20,145.96 331.20,156.37 330.70,157.45 330.20,157.17 329.70,157.34 329.20,155.65 328.70,156.19 328.20,156.21 327.70,157.80 327.20,155.95 326.70,156.62 326.20,156.27 325.70,155.54 325.20,156.52 324.70,155.77 324.20,155.92 323.70,155.33 323.20,155.37 322.70,155.84 322.20,155.89 321.70,155.34 321.20,155.69 320.70,156.01 320.20,156.09 319.70,155.75 319.20,155.77 318.70,156.61 318.20,156.32 317.70,155.69 317.20,156.73 316.70,155.41 316.20,156.69 315.70,156.51 315.20,156.00 314.70,156.61 314.20,156.83 313.70,156.61 313.20,155.51 312.70,156.08 312.20,155.80 311.70,156.44 311.20,155.38 310.70,155.46 310.20,156.07 309.70,156.29 309.20,157.65 308.70,155.87 308.20,155.84 307.70,155.34 307.20,156.11 306.70,155.60 306.20,156.04 305.70,155.51 305.20,156.85 304.70,155.35 304.20,156.46 303.70,156.75 303.20,157.00 302.70,155.41 302.20,155.43 301.70,156.11 301.20,155.54 300.70,157.52 300.20,157.84 299.70,156.55 299.20,156.47 298.70,155.50 298.20,156.48 297.70,156.03 297.20,155.57 296.70,156.36 296.20,156.26 295.70,155.32 295.20,156.56 294.70,155.45 294.20,155.43 293.70,155.61 293.20,155.64 292.70,155.78 292.20,156.12 291.70,155.81 291.20,155.42 290.70,156.32 290.20,157.27 289.70,155.47 289.20,155.58 288.70,156.15 288.20,157.61 287.70,156.25 287.20,156.51 286.70,156.19 286.20,155.65 285.70,156.75 285.20,155.42 284.70,155.32 284.20,155.61 283.70,157.22 283.20,155.84 282.70,156.63 282.20,155.66 281.70,155.39 281.20,155.85 280.70,156.14 280.20,158.03 279.70,155.47 279.20,155.96 278.70,156.33 278.20,155.83 277.70,156.58 277.20,155.54 276.70,156.89 276.20,156.18 275.70,156.59 275.20,155.94 274.70,155.99 274.20,156.28 273.70,155.39 273.20,155.91 272.70,156.18 272.20,155.81 271.70,157.25 271.20,155.50 270.70,155.46 270.20,155.75 269.70,156.89 269.20,157.61 268.70,155.82 268.20,156.35 267.70,156.38 267.20,155.33 266.70,155.83 266.20,156.56 265.70,156.16 265.20,156.22 264.70,155.81 264.20,156.41 263.70,158.13 263.20,156.38 262.70,155.34 262.20,156.10 261.70,155.91 261.20,156.01 260.70,155.40 260.20,156.09 259.70,155.40 259.20,155.61 258.70,157.18 258.20,156.63 257.70,155.41 257.20,157.10 256.70,156.79 256.20,155.53 255.70,155.59 255.20,155.48 254.70,156.90 254.20,155.75 253.70,155.73 253.20,155.77 252.70,156.66 252.20,155.34 251.70,155.99 251.20,155.42 250.70,155.69 250.20,155.42 249.70,156.07 249.20,157.48 248.70,156.01 248.20,155.78 247.70,156.64 247.20,156.31 246.70,156.13 246.20,156.99 245.70,155.52 245.20,157.05 244.70,155.64 244.20,155.71 243.70,156.01 243.20,156.95 242.70,155.71 242.20,157.58 241.70,156.31 241.20,155.89 240.70,156.03 240.20,155.62 239.70,156.13 239.20,157.03 238.70,156.83 238.20,155.97 237.70,156.03 237.20,155.88 236.70,156.04 236.20,157.45 235.70,156.94 235.20,155.87 234.70,155.39 234.20,156.05 233.70,157.01 233.20,155.43 232.70,155.60 232.20,156.31 231.70,155.53 231.20,156.53 230.70,156.08 230.20,155.89 229.70,155.56 229.20,155.38 228.70,157.81 228.20,155.71 227.70,156.49 227.20,155.39 226.70,155.78 226.20,155.40 225.70,155.62 225.20,155.38 224.70,155.36 224.20,156.89 223.70,156.04 223.20,156.08 222.70,156.75 222.20,157.48 221.70,157.33 221.20,155.33 220.70,157.15 220.20,155.97 219.70,155.89 219.20,155.38 218.70,155.64 218.20,155.42 217.70,155.63 217.20,156.96 216.70,155.68 216.20,157.50 215.70,155.39 215.20,155.85 214.70,156.63 214.20,156.28 213.70,157.28 213.20,155.32 212.70,157.48 212.20,156.52 211.70,155.58 211.20,156.64" fill="#b3141d"/>
<line x1="334.30" y1="165.30" x2="334.30" y2="184.10" stroke="#b3141d" stroke-width="1.4"/>
<text x="340.08" y="179.54" font-size="15.69" textLength="42.63" lengthAdjust="spacingAndGlyphs" fill="#b3141d">20 pA</text>
<line x1="334.80" y1="207.00" x2="364.10" y2="207.00" stroke="#111" stroke-width="1.5"/>
<g mask="url(#m1)"><text x="338.22" y="227.53" font-size="16.92" textLength="22.25" lengthAdjust="spacingAndGlyphs" fill="#111">1 s</text></g>
<text x="252.44" y="229.11" font-size="18.91" textLength="48.95" lengthAdjust="spacingAndGlyphs" fill="#b3141d">Cell 2</text>
<text x="15.84" y="253.16" font-size="19.95" textLength="193.98" lengthAdjust="spacingAndGlyphs" fill="#111">Cx36-KO/GlyT2-EGFP</text>
<text x="423.29" y="17.90" font-size="21.09" textLength="15.04" lengthAdjust="spacingAndGlyphs" fill="#111" font-weight="bold">B</text>
<line x1="518.80" y1="25.20" x2="518.80" y2="202.10" stroke="#111" stroke-width="1.45"/>
<line x1="513.90" y1="25.80" x2="518.80" y2="25.80" stroke="#111" stroke-width="1.45"/>
<line x1="513.90" y1="64.40" x2="518.80" y2="64.40" stroke="#111" stroke-width="1.45"/>
<line x1="513.90" y1="103.00" x2="518.80" y2="103.00" stroke="#111" stroke-width="1.45"/>
<line x1="513.90" y1="141.80" x2="518.80" y2="141.80" stroke="#111" stroke-width="1.45"/>
<line x1="513.90" y1="180.70" x2="518.80" y2="180.70" stroke="#111" stroke-width="1.45"/>
<line x1="518.20" y1="201.50" x2="727.20" y2="201.50" stroke="#111" stroke-width="1.45"/>
<line x1="519.20" y1="201.50" x2="519.20" y2="206.80" stroke="#111" stroke-width="1.45"/>
<line x1="572.20" y1="201.50" x2="572.20" y2="206.80" stroke="#111" stroke-width="1.45"/>
<line x1="623.20" y1="201.50" x2="623.20" y2="206.80" stroke="#111" stroke-width="1.45"/>
<line x1="675.20" y1="201.50" x2="675.20" y2="206.80" stroke="#111" stroke-width="1.45"/>
<line x1="726.50" y1="201.50" x2="726.50" y2="206.80" stroke="#111" stroke-width="1.45"/>
<polygon points="519.20,172.50 519.20,162.82 520.40,162.82 520.40,155.53 521.60,155.53 521.60,161.34 522.80,161.34 522.80,167.61 524.00,167.61 524.00,163.52 525.20,163.52 525.20,163.53 526.40,163.53 526.40,166.88 527.60,166.88 527.60,163.30 528.80,163.30 528.80,167.04 530.00,167.04 530.00,165.90 531.20,165.90 531.20,163.57 532.40,163.57 532.40,168.37 533.60,168.37 533.60,164.90 534.80,164.90 534.80,163.90 536.00,163.90 536.00,166.95 537.20,166.95 537.20,166.97 538.40,166.97 538.40,164.66 539.60,164.66 539.60,165.49 540.80,165.49 540.80,167.07 542.00,167.07 542.00,161.11 543.20,161.11 543.20,161.46 544.40,161.46 544.40,163.98 545.60,163.98 545.60,162.19 546.80,162.19 546.80,155.69 548.00,155.69 548.00,161.00 549.20,161.00 549.20,167.71 550.40,167.71 550.40,165.89 551.60,165.89 551.60,163.55 552.80,163.55 552.80,165.70 554.00,165.70 554.00,163.99 555.20,163.99 555.20,167.91 556.40,167.91 556.40,165.36 557.60,165.36 557.60,162.54 558.80,162.54 558.80,166.11 560.00,166.11 560.00,165.00 561.20,165.00 561.20,162.35 562.40,162.35 562.40,161.95 563.60,161.95 563.60,157.20 564.80,157.20 564.80,162.63 566.00,162.63 566.00,161.57 567.20,161.57 567.20,162.98 568.40,162.98 568.40,160.75 569.60,160.75 569.60,167.76 570.80,167.76 570.80,164.49 572.00,164.49 572.00,160.90 573.20,160.90 573.20,161.61 574.40,161.61 574.40,167.80 575.60,167.80 575.60,161.16 576.80,161.16 576.80,165.50 578.00,165.50 578.00,166.86 579.20,166.86 579.20,159.73 580.40,159.73 580.40,162.80 581.60,162.80 581.60,161.49 582.80,161.49 582.80,162.03 584.00,162.03 584.00,152.65 585.20,152.65 585.20,153.01 586.40,153.01 586.40,160.88 587.60,160.88 587.60,165.06 588.80,165.06 588.80,158.00 590.00,158.00 590.00,159.55 591.20,159.55 591.20,158.65 592.40,158.65 592.40,160.62 593.60,160.62 593.60,147.81 594.80,147.81 594.80,155.82 596.00,155.82 596.00,163.24 597.20,163.24 597.20,165.47 598.40,165.47 598.40,159.72 599.60,159.72 599.60,150.65 600.80,150.65 600.80,160.02 602.00,160.02 602.00,160.40 603.20,160.40 603.20,164.68 604.40,164.68 604.40,144.47 605.60,144.47 605.60,161.99 606.80,161.99 606.80,153.57 608.00,153.57 608.00,151.12 609.20,151.12 609.20,154.89 610.40,154.89 610.40,154.63 611.60,154.63 611.60,154.54 612.80,154.54 612.80,164.26 614.00,164.26 614.00,158.32 615.20,158.32 615.20,157.27 616.40,157.27 616.40,158.74 617.60,158.74 617.60,159.06 618.80,159.06 618.80,158.23 620.00,158.23 620.00,151.41 621.20,151.41 621.20,158.09 622.40,158.09 622.40,150.33 623.60,150.33 623.60,157.27 624.80,157.27 624.80,157.82 626.00,157.82 626.00,161.58 627.20,161.58 627.20,160.65 628.40,160.65 628.40,163.12 629.60,163.12 629.60,160.58 630.80,160.58 630.80,163.71 632.00,163.71 632.00,164.88 633.20,164.88 633.20,166.03 634.40,166.03 634.40,160.34 635.60,160.34 635.60,164.49 636.80,164.49 636.80,162.59 638.00,162.59 638.00,164.73 639.20,164.73 639.20,158.17 640.40,158.17 640.40,164.96 641.60,164.96 641.60,159.45 642.80,159.45 642.80,164.75 644.00,164.75 644.00,164.94 645.20,164.94 645.20,167.69 646.40,167.69 646.40,165.73 647.60,165.73 647.60,161.21 648.80,161.21 648.80,167.75 650.00,167.75 650.00,167.43 651.20,167.43 651.20,161.43 652.40,161.43 652.40,161.12 653.60,161.12 653.60,167.98 654.80,167.98 654.80,167.08 656.00,167.08 656.00,166.77 657.20,166.77 657.20,165.01 658.40,165.01 658.40,167.10 659.60,167.10 659.60,162.95 660.80,162.95 660.80,166.50 662.00,166.50 662.00,165.74 663.20,165.74 663.20,166.53 664.40,166.53 664.40,163.63 665.60,163.63 665.60,168.50 666.80,168.50 666.80,164.75 668.00,164.75 668.00,167.97 669.20,167.97 669.20,165.58 670.40,165.58 670.40,169.48 671.60,169.48 671.60,159.45 672.80,159.45 672.80,166.93 674.00,166.93 674.00,156.84 675.20,156.84 675.20,166.28 676.40,166.28 676.40,167.53 677.60,167.53 677.60,168.62 678.80,168.62 678.80,167.82 680.00,167.82 680.00,166.50 681.20,166.50 681.20,170.04 682.40,170.04 682.40,166.41 683.60,166.41 683.60,167.03 684.80,167.03 684.80,167.52 686.00,167.52 686.00,168.69 687.20,168.69 687.20,167.83 688.40,167.83 688.40,167.70 689.60,167.70 689.60,163.67 690.80,163.67 690.80,162.55 692.00,162.55 692.00,170.11 693.20,170.11 693.20,170.45 694.40,170.45 694.40,170.57 695.60,170.57 695.60,169.66 696.80,169.66 696.80,169.81 698.00,169.81 698.00,168.19 699.20,168.19 699.20,170.40 700.40,170.40 700.40,169.39 701.60,169.39 701.60,168.10 702.80,168.10 702.80,168.82 704.00,168.82 704.00,169.34 705.20,169.34 705.20,169.97 706.40,169.97 706.40,170.19 707.60,170.19 707.60,170.24 708.80,170.24 708.80,170.49 710.00,170.49 710.00,170.80 711.20,170.80 711.20,169.16 712.40,169.16 712.40,170.53 713.60,170.53 713.60,169.59 714.80,169.59 714.80,168.60 716.00,168.60 716.00,169.73 717.20,169.73 717.20,170.45 718.40,170.45 718.40,168.96 719.60,168.96 719.60,170.68 720.80,170.68 720.80,169.12 722.00,169.12 722.00,170.24 723.20,170.24 723.20,169.03 724.40,169.03 724.40,169.46 725.60,169.46 725.60,170.49 726.80,170.49 726.80,170.86 727.60,170.86 727.60,172.50" fill="#9a9a9a"/>
<rect x="519.2" y="172.5" width="208.4" height="15.7" fill="#adadad"/>
<line x1="564.95" y1="188.00" x2="564.95" y2="189.29" stroke="#9c9c9c" stroke-width="0.7"/>
<line x1="690.26" y1="188.00" x2="690.26" y2="189.70" stroke="#9c9c9c" stroke-width="0.7"/>
<line x1="588.99" y1="188.00" x2="588.99" y2="189.24" stroke="#9c9c9c" stroke-width="0.7"/>
<line x1="631.59" y1="188.00" x2="631.59" y2="189.20" stroke="#9c9c9c" stroke-width="0.7"/>
<line x1="688.41" y1="188.00" x2="688.41" y2="190.13" stroke="#9c9c9c" stroke-width="0.7"/>
<line x1="538.57" y1="188.00" x2="538.57" y2="189.35" stroke="#9c9c9c" stroke-width="0.7"/>
<line x1="598.54" y1="188.00" x2="598.54" y2="190.42" stroke="#9c9c9c" stroke-width="0.7"/>
<line x1="707.05" y1="188.00" x2="707.05" y2="189.02" stroke="#9c9c9c" stroke-width="0.7"/>
<line x1="574.76" y1="188.00" x2="574.76" y2="188.70" stroke="#9c9c9c" stroke-width="0.7"/>
<line x1="637.55" y1="188.00" x2="637.55" y2="189.47" stroke="#9c9c9c" stroke-width="0.7"/>
<line x1="708.61" y1="188.00" x2="708.61" y2="189.96" stroke="#9c9c9c" stroke-width="0.7"/>
<line x1="665.86" y1="188.00" x2="665.86" y2="189.20" stroke="#9c9c9c" stroke-width="0.7"/>
<line x1="709.83" y1="188.00" x2="709.83" y2="188.99" stroke="#9c9c9c" stroke-width="0.7"/>
<line x1="634.71" y1="188.00" x2="634.71" y2="189.62" stroke="#9c9c9c" stroke-width="0.7"/>
<line x1="658.88" y1="188.00" x2="658.88" y2="190.14" stroke="#9c9c9c" stroke-width="0.7"/>
<line x1="533.35" y1="188.00" x2="533.35" y2="189.65" stroke="#9c9c9c" stroke-width="0.7"/>
<line x1="715.26" y1="188.00" x2="715.26" y2="189.70" stroke="#9c9c9c" stroke-width="0.7"/>
<line x1="607.05" y1="188.00" x2="607.05" y2="189.29" stroke="#9c9c9c" stroke-width="0.7"/>
<line x1="630.73" y1="188.00" x2="630.73" y2="189.81" stroke="#9c9c9c" stroke-width="0.7"/>
<line x1="630.16" y1="188.00" x2="630.16" y2="190.02" stroke="#9c9c9c" stroke-width="0.7"/>
<line x1="585.05" y1="188.00" x2="585.05" y2="188.66" stroke="#9c9c9c" stroke-width="0.7"/>
<line x1="718.38" y1="188.00" x2="718.38" y2="190.45" stroke="#9c9c9c" stroke-width="0.7"/>
<line x1="656.07" y1="188.00" x2="656.07" y2="189.36" stroke="#9c9c9c" stroke-width="0.7"/>
<line x1="629.80" y1="188.00" x2="629.80" y2="189.42" stroke="#9c9c9c" stroke-width="0.7"/>
<line x1="551.62" y1="188.00" x2="551.62" y2="189.49" stroke="#9c9c9c" stroke-width="0.7"/>
<line x1="671.35" y1="188.00" x2="671.35" y2="189.97" stroke="#9c9c9c" stroke-width="0.7"/>
<line x1="652.68" y1="188.00" x2="652.68" y2="189.44" stroke="#9c9c9c" stroke-width="0.7"/>
<line x1="716.24" y1="188.00" x2="716.24" y2="189.71" stroke="#9c9c9c" stroke-width="0.7"/>
<line x1="637.97" y1="188.00" x2="637.97" y2="189.10" stroke="#9c9c9c" stroke-width="0.7"/>
<line x1="588.16" y1="188.00" x2="588.16" y2="189.01" stroke="#9c9c9c" stroke-width="0.7"/>
<line x1="649.56" y1="188.00" x2="649.56" y2="189.53" stroke="#9c9c9c" stroke-width="0.7"/>
<line x1="550.73" y1="188.00" x2="550.73" y2="188.74" stroke="#9c9c9c" stroke-width="0.7"/>
<line x1="567.03" y1="188.00" x2="567.03" y2="188.59" stroke="#9c9c9c" stroke-width="0.7"/>
<line x1="638.78" y1="188.00" x2="638.78" y2="189.92" stroke="#9c9c9c" stroke-width="0.7"/>
<line x1="653.30" y1="188.00" x2="653.30" y2="188.79" stroke="#9c9c9c" stroke-width="0.7"/>
<line x1="719.95" y1="188.00" x2="719.95" y2="189.75" stroke="#9c9c9c" stroke-width="0.7"/>
<line x1="527.70" y1="188.00" x2="527.70" y2="190.34" stroke="#9c9c9c" stroke-width="0.7"/>
<line x1="701.38" y1="188.00" x2="701.38" y2="190.17" stroke="#9c9c9c" stroke-width="0.7"/>
<line x1="604.02" y1="188.00" x2="604.02" y2="188.71" stroke="#9c9c9c" stroke-width="0.7"/>
<line x1="526.42" y1="188.00" x2="526.42" y2="189.43" stroke="#9c9c9c" stroke-width="0.7"/>
<line x1="519.20" y1="172.50" x2="727.60" y2="172.50" stroke="#2a2a2a" stroke-width="1.1" stroke-dasharray="2.2 1.8"/>
<line x1="519.20" y1="188.10" x2="727.60" y2="188.10" stroke="#2a2a2a" stroke-width="1.1" stroke-dasharray="2.2 1.8"/>
<line x1="727.60" y1="172.50" x2="727.60" y2="188.10" stroke="#2a2a2a" stroke-width="1.1" stroke-dasharray="2.2 1.8"/>
<polyline points="519.50,179.96 520.00,178.84 520.50,180.25 521.00,179.95 521.50,179.75 522.00,178.64 522.50,179.83 523.00,180.58 523.50,180.07 524.00,179.33 524.50,179.90 525.00,179.49 525.50,179.61 526.00,180.10 526.50,179.71 527.00,179.50 527.50,179.72 528.00,178.81 528.50,178.67 529.00,179.77 529.50,178.95 530.00,179.80 530.50,178.00 531.00,180.26 531.50,179.28 532.00,180.59 532.50,177.49 533.00,178.07 533.50,180.36 534.00,179.43 534.50,179.53 535.00,179.38 535.50,179.40 536.00,179.67 536.50,178.51 537.00,179.13 537.50,180.21 538.00,179.37 538.50,178.76 539.00,179.29 539.50,179.98 540.00,179.05 540.50,179.05 541.00,179.54 541.50,179.80 542.00,180.26 542.50,179.05 543.00,179.40 543.50,179.91 544.00,177.70 544.50,179.22 545.00,179.44 545.50,179.03 546.00,178.45 546.50,179.51 547.00,179.99 547.50,178.99 548.00,178.69 548.50,178.88 549.00,180.19 549.50,179.95 550.00,179.04 550.50,178.18 551.00,178.05 551.50,178.74 552.00,178.74 552.50,179.16 553.00,178.11 553.50,178.85 554.00,179.33 554.50,177.67 555.00,180.63 555.50,179.34 556.00,179.29 556.50,177.92 557.00,178.11 557.50,179.63 558.00,179.52 558.50,177.03 559.00,179.71 559.50,179.38 560.00,179.29 560.50,177.97 561.00,178.97 561.50,178.29 562.00,179.14 562.50,180.07 563.00,179.15 563.50,179.41 564.00,178.39 564.50,177.83 565.00,178.58 565.50,179.32 566.00,179.62 566.50,178.45 567.00,178.66 567.50,178.14 568.00,177.13 568.50,178.46 569.00,178.63 569.50,178.03 570.00,178.18 570.50,176.94 571.00,178.31 571.50,179.27 572.00,178.19 572.50,178.63 573.00,178.49 573.50,177.57 574.00,178.26 574.50,177.47 575.00,180.24 575.50,178.18 576.00,177.19 576.50,176.83 577.00,179.07 577.50,178.38 578.00,178.20 578.50,176.85 579.00,177.43 579.50,176.91 580.00,178.62 580.50,177.38 581.00,179.18 581.50,178.10 582.00,177.45 582.50,178.67 583.00,176.07 583.50,176.99 584.00,177.29 584.50,178.36 585.00,178.34 585.50,177.75 586.00,176.10 586.50,176.99 587.00,176.51 587.50,178.22 588.00,176.90 588.50,177.62 589.00,178.52 589.50,177.03 590.00,177.56 590.50,176.70 591.00,176.97 591.50,176.92 592.00,176.84 592.50,176.84 593.00,176.44 593.50,178.08 594.00,176.15 594.50,176.77 595.00,176.31 595.50,174.79 596.00,177.16 596.50,176.56 597.00,175.30 597.50,175.74 598.00,175.02 598.50,176.39 599.00,177.30 599.50,176.99 600.00,175.06 600.50,174.69 601.00,176.32 601.50,177.14 602.00,175.86 602.50,176.56 603.00,174.68 603.50,175.59 604.00,175.95 604.50,175.26 605.00,175.35 605.50,175.98 606.00,174.95 606.50,174.63 607.00,175.88 607.50,175.45 608.00,174.47 608.50,175.49 609.00,174.70 609.50,175.55 610.00,175.01 610.50,174.76 611.00,174.35 611.50,175.04 612.00,174.81 612.50,176.23 613.00,174.73 613.50,173.71 614.00,176.23 614.50,173.11 615.00,175.84 615.50,173.91 616.00,175.56 616.50,174.33 617.00,174.84 617.50,174.41 618.00,174.26 618.50,174.69 619.00,173.78 619.50,174.58 620.00,173.37 620.50,173.59 621.00,173.71 621.50,173.98 622.00,174.92 622.50,173.54 623.00,173.68 623.50,173.63 624.00,174.33 624.50,175.21 625.00,174.38 625.50,174.88 626.00,174.81 626.50,175.47 627.00,174.06 627.50,176.17 628.00,176.57 628.50,175.41 629.00,176.14 629.50,175.67 630.00,177.26 630.50,177.04 631.00,178.80 631.50,176.54 632.00,176.10 632.50,176.46 633.00,175.94 633.50,177.10 634.00,177.24 634.50,177.76 635.00,177.44 635.50,176.89 636.00,178.23 636.50,177.76 637.00,178.01 637.50,176.57 638.00,176.89 638.50,177.10 639.00,177.35 639.50,176.07 640.00,178.67 640.50,177.67 641.00,178.53 641.50,178.54 642.00,179.14 642.50,178.52 643.00,178.43 643.50,177.66 644.00,178.37 644.50,179.66 645.00,177.09 645.50,177.94 646.00,178.74 646.50,179.81 647.00,177.84 647.50,178.39 648.00,178.91 648.50,181.19 649.00,178.27 649.50,178.87 650.00,179.61 650.50,178.54 651.00,179.38 651.50,179.41 652.00,178.85 652.50,179.40 653.00,180.45 653.50,179.27 654.00,178.87 654.50,178.65 655.00,179.40 655.50,180.02 656.00,179.37 656.50,179.51 657.00,181.28 657.50,178.74 658.00,178.52 658.50,179.55 659.00,179.20 659.50,179.80 660.00,180.32 660.50,179.67 661.00,179.27 661.50,179.83 662.00,179.82 662.50,179.40 663.00,179.06 663.50,180.00 664.00,179.37 664.50,178.68 665.00,180.06 665.50,179.17 666.00,179.18 666.50,180.08 667.00,179.02 667.50,179.49 668.00,178.91 668.50,178.51 669.00,179.89 669.50,180.85 670.00,179.05 670.50,180.59 671.00,180.53 671.50,180.88 672.00,178.96 672.50,179.29 673.00,181.03 673.50,179.77 674.00,179.82 674.50,180.38 675.00,180.32 675.50,179.47 676.00,179.74 676.50,180.39 677.00,180.13 677.50,179.40 678.00,180.92 678.50,180.62 679.00,179.76 679.50,179.60 680.00,180.72 680.50,178.24 681.00,180.15 681.50,179.64 682.00,179.59 682.50,180.78 683.00,180.36 683.50,182.44 684.00,180.01 684.50,180.46 685.00,179.16 685.50,180.98 686.00,179.79 686.50,180.42 687.00,181.24 687.50,181.17 688.00,180.68 688.50,181.28 689.00,180.01 689.50,179.66 690.00,179.23 690.50,180.81 691.00,181.88 691.50,180.18 692.00,180.44 692.50,180.22 693.00,180.83 693.50,179.12 694.00,181.14 694.50,181.32 695.00,180.02 695.50,179.79 696.00,179.90 696.50,180.99 697.00,181.67 697.50,179.86 698.00,179.47 698.50,180.72 699.00,180.85 699.50,181.20 700.00,180.17 700.50,181.24 701.00,181.52 701.50,179.48 702.00,180.49 702.50,181.17 703.00,181.29 703.50,180.31 704.00,179.28 704.50,180.15 705.00,179.68 705.50,180.36 706.00,181.52 706.50,180.29 707.00,180.83 707.50,179.86 708.00,181.47 708.50,180.31 709.00,180.01 709.50,182.19 710.00,181.05 710.50,181.32 711.00,179.32 711.50,181.89 712.00,182.12 712.50,180.73 713.00,180.62 713.50,180.41 714.00,181.66 714.50,179.69 715.00,181.11 715.50,182.37 716.00,180.99 716.50,182.37 717.00,180.92 717.50,180.68 718.00,181.60 718.50,180.86 719.00,181.00 719.50,180.63 720.00,180.04 720.50,180.72 721.00,181.48 721.50,181.77 722.00,180.92 722.50,181.21 723.00,180.29 723.50,180.86 724.00,180.88 724.50,180.90 725.00,181.06 725.50,181.29 726.00,181.94 726.50,181.61 727.00,181.43" fill="none" stroke="#111" stroke-width="1.7"/>
<text x="485.03" y="32.70" font-size="19.65" textLength="21.85" lengthAdjust="spacingAndGlyphs" fill="#111">40</text>
<text x="485.03" y="67.80" font-size="19.65" textLength="21.85" lengthAdjust="spacingAndGlyphs" fill="#111">30</text>
<text x="485.03" y="108.45" font-size="19.65" textLength="21.85" lengthAdjust="spacingAndGlyphs" fill="#111">20</text>
<g mask="url(#m1)"><text x="485.03" y="146.25" font-size="19.65" textLength="21.85" lengthAdjust="spacingAndGlyphs" fill="#111">10</text></g>
<text x="495.93" y="183.55" font-size="19.65" textLength="10.93" lengthAdjust="spacingAndGlyphs" fill="#111">0</text>
<g transform="rotate(-90)"><text x="-140.07" y="469.10" font-size="20.09" textLength="62.00" lengthAdjust="spacingAndGlyphs" fill="#111">z score</text></g>
<text x="500.83" y="231.70" font-size="19.65" textLength="38.52" lengthAdjust="spacingAndGlyphs" fill="#111">-200</text>
<text x="616.82" y="231.70" font-size="20.21" textLength="10.83" lengthAdjust="spacingAndGlyphs" fill="#111">0</text>
<text x="712.12" y="231.70" font-size="19.65" textLength="32.63" lengthAdjust="spacingAndGlyphs" fill="#111">200</text>
<text x="567.31" y="257.75" font-size="19.52" textLength="105.77" lengthAdjust="spacingAndGlyphs" fill="#111">Time lag (ms)</text>
<line x1="631.70" y1="32.70" x2="631.70" y2="97.80" stroke="#111" stroke-width="1.1"/>
<line x1="628.00" y1="32.70" x2="631.70" y2="32.70" stroke="#111" stroke-width="1.1"/>
<line x1="628.00" y1="46.90" x2="631.70" y2="46.90" stroke="#111" stroke-width="1.1"/>
<line x1="628.00" y1="61.10" x2="631.70" y2="61.10" stroke="#111" stroke-width="1.1"/>
<line x1="628.00" y1="75.30" x2="631.70" y2="75.30" stroke="#111" stroke-width="1.1"/>
<line x1="628.00" y1="89.50" x2="631.70" y2="89.50" stroke="#111" stroke-width="1.1"/>
<line x1="631.20" y1="97.30" x2="713.50" y2="97.30" stroke="#111" stroke-width="1.1"/>
<line x1="631.70" y1="97.30" x2="631.70" y2="100.60" stroke="#111" stroke-width="1.1"/>
<line x1="639.83" y1="97.30" x2="639.83" y2="100.60" stroke="#111" stroke-width="1.1"/>
<line x1="647.96" y1="97.30" x2="647.96" y2="100.60" stroke="#111" stroke-width="1.1"/>
<line x1="656.09" y1="97.30" x2="656.09" y2="100.60" stroke="#111" stroke-width="1.1"/>
<line x1="664.22" y1="97.30" x2="664.22" y2="100.60" stroke="#111" stroke-width="1.1"/>
<line x1="672.35" y1="97.30" x2="672.35" y2="100.60" stroke="#111" stroke-width="1.1"/>
<line x1="680.48" y1="97.30" x2="680.48" y2="100.60" stroke="#111" stroke-width="1.1"/>
<line x1="688.61" y1="97.30" x2="688.61" y2="100.60" stroke="#111" stroke-width="1.1"/>
<line x1="696.74" y1="97.30" x2="696.74" y2="100.60" stroke="#111" stroke-width="1.1"/>
<line x1="704.87" y1="97.30" x2="704.87" y2="100.60" stroke="#111" stroke-width="1.1"/>
<line x1="713.00" y1="97.30" x2="713.00" y2="100.60" stroke="#111" stroke-width="1.1"/>
<rect x="632.3" y="85.8" width="81" height="6.6" fill="#b0b0b0"/>
<polygon points="632.30,83.66 635.00,83.24 637.70,84.10 640.40,84.64 643.10,85.21 645.80,84.39 648.50,83.86 651.20,83.67 653.90,84.90 656.60,85.61 659.30,84.52 662.00,83.31 664.70,83.53 667.40,85.58 670.10,84.46 672.80,82.91 675.50,84.23 678.20,83.37 680.90,83.80 683.60,83.91 686.30,83.73 689.00,84.74 691.70,84.25 694.40,83.83 697.10,84.63 699.80,84.96 702.50,82.99 705.20,84.09 707.90,83.52 710.60,84.16 713.30,83.27 713.30,86.50 632.30,86.50" fill="#a0a0a0"/>
<polyline points="632.30,83.66 635.00,83.24 637.70,84.10 640.40,84.64 643.10,85.21 645.80,84.39 648.50,83.86 651.20,83.67 653.90,84.90 656.60,85.61 659.30,84.52 662.00,83.31 664.70,83.53 667.40,85.58 670.10,84.46 672.80,82.91 675.50,84.23 678.20,83.37 680.90,83.80 683.60,83.91 686.30,83.73 689.00,84.74 691.70,84.25 694.40,83.83 697.10,84.63 699.80,84.96 702.50,82.99 705.20,84.09 707.90,83.52 710.60,84.16 713.30,83.27" fill="none" stroke="#979797" stroke-width="1.5"/>
<polyline points="632.30,82.63 635.00,82.55 637.70,82.20 640.40,81.24 643.10,82.08 645.80,81.18 648.50,80.84 651.20,82.89 653.90,81.16 656.60,84.12 659.30,83.53 662.00,80.00 664.70,82.95 667.40,81.17 670.10,82.64 672.80,82.66 675.50,80.02 678.20,82.30 680.90,82.27 683.60,83.85 686.30,81.06 689.00,83.56 691.70,81.17 694.40,82.17 697.10,81.51 699.80,84.48 702.50,83.34 705.20,85.76 707.90,83.43 710.60,83.70 713.30,83.69" fill="none" stroke="#a3a3a3" stroke-width="1.5"/>
<line x1="632.30" y1="92.30" x2="713.30" y2="92.30" stroke="#333" stroke-width="0.9" stroke-dasharray="1.5 1.5"/>
<polyline points="632.30,86.74 635.00,87.06 637.70,87.91 640.40,86.86 643.10,87.21 645.80,87.09 648.50,87.47 651.20,86.88 653.90,87.01 656.60,87.25 659.30,87.16 662.00,86.58 664.70,87.64 667.40,86.32 670.10,86.38 672.80,86.33 675.50,87.68 678.20,86.88 680.90,86.52 683.60,86.42 686.30,87.35 689.00,86.47 691.70,86.34 694.40,87.47 697.10,86.38 699.80,86.91 702.50,87.10 705.20,86.83 707.90,87.07 710.60,87.90 713.30,86.79" fill="none" stroke="#111" stroke-width="1.8"/>
<text x="610.78" y="36.26" font-size="14.28" textLength="15.68" lengthAdjust="spacingAndGlyphs" fill="#111">40</text>
<text x="618.51" y="92.76" font-size="13.99" textLength="8.27" lengthAdjust="spacingAndGlyphs" fill="#111">0</text>
<text x="624.28" y="115.26" font-size="13.91" textLength="12.30" lengthAdjust="spacingAndGlyphs" fill="#111">-5</text>
<text x="669.13" y="115.56" font-size="14.28" textLength="7.92" lengthAdjust="spacingAndGlyphs" fill="#111">0</text>
<text x="710.52" y="115.36" font-size="14.19" textLength="8.08" lengthAdjust="spacingAndGlyphs" fill="#111">5</text>
<text x="665.66" y="130.26" font-size="13.52" textLength="18.64" lengthAdjust="spacingAndGlyphs" fill="#111">ms</text>
<text x="-0.04" y="329.58" font-size="22.33" textLength="15.11" lengthAdjust="spacingAndGlyphs" fill="#111" font-weight="bold">C</text>
<line x1="107.10" y1="346.70" x2="107.10" y2="521.50" stroke="#111" stroke-width="1.45"/>
<line x1="101.20" y1="510.00" x2="107.10" y2="510.00" stroke="#111" stroke-width="1.45"/>
<line x1="101.20" y1="482.78" x2="107.10" y2="482.78" stroke="#111" stroke-width="1.45"/>
<line x1="101.20" y1="455.57" x2="107.10" y2="455.57" stroke="#111" stroke-width="1.45"/>
<line x1="101.20" y1="428.35" x2="107.10" y2="428.35" stroke="#111" stroke-width="1.45"/>
<line x1="101.20" y1="401.13" x2="107.10" y2="401.13" stroke="#111" stroke-width="1.45"/>
<line x1="101.20" y1="373.92" x2="107.10" y2="373.92" stroke="#111" stroke-width="1.45"/>
<line x1="101.20" y1="346.70" x2="107.10" y2="346.70" stroke="#111" stroke-width="1.45"/>
<line x1="106.50" y1="520.90" x2="315.60" y2="520.90" stroke="#111" stroke-width="1.45"/>
<line x1="111.30" y1="520.90" x2="111.30" y2="529.00" stroke="#111" stroke-width="1.45"/>
<line x1="152.02" y1="520.90" x2="152.02" y2="529.00" stroke="#111" stroke-width="1.45"/>
<line x1="192.74" y1="520.90" x2="192.74" y2="529.00" stroke="#111" stroke-width="1.45"/>
<line x1="233.46" y1="520.90" x2="233.46" y2="529.00" stroke="#111" stroke-width="1.45"/>
<line x1="274.18" y1="520.90" x2="274.18" y2="529.00" stroke="#111" stroke-width="1.45"/>
<line x1="314.90" y1="520.90" x2="314.90" y2="529.00" stroke="#111" stroke-width="1.45"/>
<rect x="107.1" y="507.4" width="208.5" height="5.9" fill="#bdbdbd"/>
<line x1="107.10" y1="507.70" x2="315.60" y2="507.70" stroke="#333" stroke-width="1.1" stroke-dasharray="1 1"/>
<line x1="107.10" y1="513.00" x2="315.60" y2="513.00" stroke="#333" stroke-width="1.1" stroke-dasharray="1 1"/>
<rect x="127.10" y="501.00" width="9.4" height="9.4" fill="#b3141d"/>
<rect x="147.50" y="497.40" width="9.4" height="9.4" fill="#b3141d"/>
<rect x="158.50" y="496.80" width="9.4" height="9.4" fill="#b3141d"/>
<rect x="165.80" y="497.10" width="9.4" height="9.4" fill="#b3141d"/>
<rect x="172.00" y="496.80" width="9.4" height="9.4" fill="#b3141d"/>
<rect x="173.90" y="499.80" width="9.4" height="9.4" fill="#b3141d"/>
<rect x="181.90" y="502.30" width="9.4" height="9.4" fill="#b3141d"/>
<rect x="190.60" y="498.10" width="9.4" height="9.4" fill="#b3141d"/>
<rect x="214.30" y="499.90" width="9.4" height="9.4" fill="#b3141d"/>
<rect x="225.00" y="498.10" width="9.4" height="9.4" fill="#b3141d"/>
<rect x="265.40" y="495.00" width="9.4" height="9.4" fill="#b3141d"/>
<rect x="183.90" y="498.10" width="9.4" height="9.4" fill="#b3141d"/>
<rect x="185.60" y="499.80" width="6" height="6" fill="#fff"/>
<circle cx="176.3" cy="354.9" r="5.2" fill="#111"/>
<circle cx="162.3" cy="435.4" r="5.2" fill="#111"/>
<circle cx="162.3" cy="454.2" r="5.2" fill="#111"/>
<circle cx="192.8" cy="452.5" r="5.2" fill="#111"/>
<circle cx="202.9" cy="469.3" r="5.2" fill="#111"/>
<circle cx="176.4" cy="478.7" r="5.2" fill="#111"/>
<circle cx="168.6" cy="487.5" r="5.2" fill="#111"/>
<circle cx="168.6" cy="491.8" r="5.2" fill="#111"/>
<circle cx="207.2" cy="497.7" r="5.2" fill="#111"/>
<circle cx="225.3" cy="485.5" r="5.2" fill="#111"/>
<circle cx="168.6" cy="504.5" r="5.2" fill="#111"/>
<circle cx="310.6" cy="465.3" r="5.2" fill="#111"/>
<line x1="180.40" y1="465.00" x2="205.10" y2="465.00" stroke="#111" stroke-width="1.2"/>
<line x1="180.40" y1="462.00" x2="180.40" y2="468.00" stroke="#111" stroke-width="1.2"/>
<line x1="205.10" y1="462.00" x2="205.10" y2="468.00" stroke="#111" stroke-width="1.2"/>
<line x1="192.80" y1="455.00" x2="192.80" y2="477.40" stroke="#111" stroke-width="1.2"/>
<line x1="190.20" y1="477.40" x2="195.40" y2="477.40" stroke="#111" stroke-width="1.2"/>
<circle cx="192.8" cy="465" r="3.7" fill="#fff" stroke="#111" stroke-width="1.3"/>
<circle cx="251.6" cy="356.7" r="5.5" fill="#111"/>
<text x="261.01" y="362.30" font-size="19.78" textLength="29.01" lengthAdjust="spacingAndGlyphs" fill="#111">WT</text>
<rect x="247.3" y="373.8" width="8.8" height="8.9" fill="#b3141d"/>
<text x="260.85" y="384.61" font-size="18.52" textLength="78.05" lengthAdjust="spacingAndGlyphs" fill="#b3141d">Cx36-KO</text>
<text x="82.51" y="516.70" font-size="19.51" textLength="10.85" lengthAdjust="spacingAndGlyphs" fill="#111">0</text>
<text x="71.68" y="489.49" font-size="19.51" textLength="21.70" lengthAdjust="spacingAndGlyphs" fill="#111">20</text>
<text x="71.68" y="462.27" font-size="19.51" textLength="21.70" lengthAdjust="spacingAndGlyphs" fill="#111">40</text>
<text x="71.68" y="435.05" font-size="19.51" textLength="21.70" lengthAdjust="spacingAndGlyphs" fill="#111">60</text>
<text x="71.68" y="407.84" font-size="19.51" textLength="21.70" lengthAdjust="spacingAndGlyphs" fill="#111">80</text>
<g mask="url(#m1)"><text x="60.81" y="380.62" font-size="19.51" textLength="32.54" lengthAdjust="spacingAndGlyphs" fill="#111">100</text></g>
<g mask="url(#m1)"><text x="60.81" y="353.40" font-size="19.51" textLength="32.54" lengthAdjust="spacingAndGlyphs" fill="#111">120</text></g>
<g transform="rotate(-90)"><text x="-454.37" y="47.91" font-size="19.36" textLength="62.31" lengthAdjust="spacingAndGlyphs" fill="#111">z score</text></g>
<text x="105.74" y="550.90" font-size="19.93" textLength="11.08" lengthAdjust="spacingAndGlyphs" fill="#111">0</text>
<text x="140.83" y="550.90" font-size="19.93" textLength="22.17" lengthAdjust="spacingAndGlyphs" fill="#111">20</text>
<text x="181.83" y="550.90" font-size="19.93" textLength="22.17" lengthAdjust="spacingAndGlyphs" fill="#111">40</text>
<text x="222.27" y="550.90" font-size="19.93" textLength="22.17" lengthAdjust="spacingAndGlyphs" fill="#111">60</text>
<text x="263.07" y="550.90" font-size="19.93" textLength="22.17" lengthAdjust="spacingAndGlyphs" fill="#111">80</text>
<g mask="url(#m1)"><text x="297.71" y="550.90" font-size="19.93" textLength="33.25" lengthAdjust="spacingAndGlyphs" fill="#111">100</text></g>
<text x="98.83" y="584.55" font-size="19.52" textLength="232.07" lengthAdjust="spacingAndGlyphs" fill="#111">Inter-somatic distance (µm)</text>
<text x="423.23" y="329.60" font-size="22.69" textLength="15.68" lengthAdjust="spacingAndGlyphs" fill="#111" font-weight="bold">D</text>
<line x1="521.30" y1="347.20" x2="521.30" y2="522.70" stroke="#111" stroke-width="1.45"/>
<line x1="514.30" y1="517.80" x2="521.30" y2="517.80" stroke="#111" stroke-width="1.45"/>
<line x1="514.30" y1="493.43" x2="521.30" y2="493.43" stroke="#111" stroke-width="1.45"/>
<line x1="514.30" y1="469.06" x2="521.30" y2="469.06" stroke="#111" stroke-width="1.45"/>
<line x1="514.30" y1="444.69" x2="521.30" y2="444.69" stroke="#111" stroke-width="1.45"/>
<line x1="514.30" y1="420.31" x2="521.30" y2="420.31" stroke="#111" stroke-width="1.45"/>
<line x1="514.30" y1="395.94" x2="521.30" y2="395.94" stroke="#111" stroke-width="1.45"/>
<line x1="514.30" y1="371.57" x2="521.30" y2="371.57" stroke="#111" stroke-width="1.45"/>
<line x1="514.30" y1="347.20" x2="521.30" y2="347.20" stroke="#111" stroke-width="1.45"/>
<line x1="520.70" y1="522.10" x2="729.20" y2="522.10" stroke="#111" stroke-width="1.45"/>
<line x1="526.60" y1="522.10" x2="526.60" y2="529.10" stroke="#111" stroke-width="1.45"/>
<line x1="567.00" y1="522.10" x2="567.00" y2="529.10" stroke="#111" stroke-width="1.45"/>
<line x1="607.40" y1="522.10" x2="607.40" y2="529.10" stroke="#111" stroke-width="1.45"/>
<line x1="647.80" y1="522.10" x2="647.80" y2="529.10" stroke="#111" stroke-width="1.45"/>
<line x1="688.20" y1="522.10" x2="688.20" y2="529.10" stroke="#111" stroke-width="1.45"/>
<line x1="728.60" y1="522.10" x2="728.60" y2="529.10" stroke="#111" stroke-width="1.45"/>
<polyline points="526.60,500.40 567.00,448.10 607.40,418.85 647.80,400.33 688.20,385.22 728.60,373.03" fill="none" stroke="#111" stroke-width="1.3"/>
<polyline points="526.60,513.61 567.00,506.10 607.40,498.30 647.80,490.99 688.20,484.65 728.60,477.34" fill="none" stroke="#b3141d" stroke-width="1.3"/>
<circle cx="526.60" cy="500.40" r="5.6" fill="#111"/>
<line x1="567.00" y1="437.86" x2="567.00" y2="458.33" stroke="#111" stroke-width="1.3"/>
<line x1="563.10" y1="437.86" x2="570.90" y2="437.86" stroke="#111" stroke-width="1.3"/>
<line x1="563.10" y1="458.33" x2="570.90" y2="458.33" stroke="#111" stroke-width="1.3"/>
<circle cx="567.00" cy="448.10" r="5.6" fill="#111"/>
<line x1="607.40" y1="405.20" x2="607.40" y2="432.50" stroke="#111" stroke-width="1.3"/>
<line x1="603.50" y1="405.20" x2="611.30" y2="405.20" stroke="#111" stroke-width="1.3"/>
<line x1="603.50" y1="432.50" x2="611.30" y2="432.50" stroke="#111" stroke-width="1.3"/>
<circle cx="607.40" cy="418.85" r="5.6" fill="#111"/>
<line x1="647.80" y1="385.22" x2="647.80" y2="415.44" stroke="#111" stroke-width="1.3"/>
<line x1="643.90" y1="385.22" x2="651.70" y2="385.22" stroke="#111" stroke-width="1.3"/>
<line x1="643.90" y1="415.44" x2="651.70" y2="415.44" stroke="#111" stroke-width="1.3"/>
<circle cx="647.80" cy="400.33" r="5.6" fill="#111"/>
<line x1="688.20" y1="369.13" x2="688.20" y2="401.30" stroke="#111" stroke-width="1.3"/>
<line x1="684.30" y1="369.13" x2="692.10" y2="369.13" stroke="#111" stroke-width="1.3"/>
<line x1="684.30" y1="401.30" x2="692.10" y2="401.30" stroke="#111" stroke-width="1.3"/>
<circle cx="688.20" cy="385.22" r="5.6" fill="#111"/>
<line x1="728.60" y1="356.46" x2="728.60" y2="389.61" stroke="#111" stroke-width="1.3"/>
<line x1="724.70" y1="356.46" x2="732.50" y2="356.46" stroke="#111" stroke-width="1.3"/>
<line x1="724.70" y1="389.61" x2="732.50" y2="389.61" stroke="#111" stroke-width="1.3"/>
<circle cx="728.60" cy="373.03" r="5.6" fill="#111"/>
<rect x="522.15" y="509.16" width="8.9" height="8.9" fill="#b3141d"/>
<rect x="562.55" y="501.65" width="8.9" height="8.9" fill="#b3141d"/>
<line x1="607.40" y1="496.84" x2="607.40" y2="499.77" stroke="#b3141d" stroke-width="1.3"/>
<line x1="603.50" y1="496.84" x2="611.30" y2="496.84" stroke="#b3141d" stroke-width="1.3"/>
<line x1="603.50" y1="499.77" x2="611.30" y2="499.77" stroke="#b3141d" stroke-width="1.3"/>
<rect x="602.95" y="493.85" width="8.9" height="8.9" fill="#b3141d"/>
<line x1="647.80" y1="486.12" x2="647.80" y2="495.87" stroke="#b3141d" stroke-width="1.3"/>
<line x1="643.90" y1="486.12" x2="651.70" y2="486.12" stroke="#b3141d" stroke-width="1.3"/>
<line x1="643.90" y1="495.87" x2="651.70" y2="495.87" stroke="#b3141d" stroke-width="1.3"/>
<rect x="643.35" y="486.54" width="8.9" height="8.9" fill="#b3141d"/>
<line x1="688.20" y1="477.83" x2="688.20" y2="491.48" stroke="#b3141d" stroke-width="1.3"/>
<line x1="684.30" y1="477.83" x2="692.10" y2="477.83" stroke="#b3141d" stroke-width="1.3"/>
<line x1="684.30" y1="491.48" x2="692.10" y2="491.48" stroke="#b3141d" stroke-width="1.3"/>
<rect x="683.75" y="480.20" width="8.9" height="8.9" fill="#b3141d"/>
<line x1="728.60" y1="469.54" x2="728.60" y2="485.14" stroke="#b3141d" stroke-width="1.3"/>
<line x1="724.70" y1="469.54" x2="732.50" y2="469.54" stroke="#b3141d" stroke-width="1.3"/>
<line x1="724.70" y1="485.14" x2="732.50" y2="485.14" stroke="#b3141d" stroke-width="1.3"/>
<rect x="724.15" y="472.89" width="8.9" height="8.9" fill="#b3141d"/>
<text x="702.70" y="346.80" font-size="20.51" textLength="29.62" lengthAdjust="spacingAndGlyphs" fill="#111">WT</text>
<text x="653.75" y="457.61" font-size="19.36" textLength="78.05" lengthAdjust="spacingAndGlyphs" fill="#b3141d">Cx36-KO</text>
<text x="485.38" y="350.56" font-size="19.08" textLength="21.22" lengthAdjust="spacingAndGlyphs" fill="#111">35</text>
<text x="485.34" y="375.86" font-size="19.08" textLength="21.22" lengthAdjust="spacingAndGlyphs" fill="#111">30</text>
<text x="485.38" y="401.16" font-size="19.08" textLength="21.22" lengthAdjust="spacingAndGlyphs" fill="#111">25</text>
<text x="485.34" y="426.46" font-size="19.08" textLength="21.22" lengthAdjust="spacingAndGlyphs" fill="#111">20</text>
<g mask="url(#m1)"><text x="485.09" y="451.76" font-size="19.35" textLength="21.53" lengthAdjust="spacingAndGlyphs" fill="#111">15</text></g>
<g mask="url(#m1)"><text x="485.34" y="477.06" font-size="19.08" textLength="21.22" lengthAdjust="spacingAndGlyphs" fill="#111">10</text></g>
<text x="495.83" y="502.36" font-size="19.35" textLength="10.76" lengthAdjust="spacingAndGlyphs" fill="#111">5</text>
<text x="495.93" y="527.66" font-size="19.08" textLength="10.61" lengthAdjust="spacingAndGlyphs" fill="#111">0</text>
<text x="521.64" y="550.60" font-size="19.93" textLength="11.08" lengthAdjust="spacingAndGlyphs" fill="#111">0</text>
<g mask="url(#m1)"><text x="563.14" y="550.80" font-size="20.51" textLength="11.41" lengthAdjust="spacingAndGlyphs" fill="#111">1</text></g>
<text x="602.39" y="550.80" font-size="20.22" textLength="11.24" lengthAdjust="spacingAndGlyphs" fill="#111">2</text>
<text x="642.92" y="550.60" font-size="19.93" textLength="11.08" lengthAdjust="spacingAndGlyphs" fill="#111">3</text>
<text x="683.16" y="550.80" font-size="20.51" textLength="11.41" lengthAdjust="spacingAndGlyphs" fill="#111">4</text>
<text x="723.59" y="550.60" font-size="20.22" textLength="11.24" lengthAdjust="spacingAndGlyphs" fill="#111">5</text>
<g transform="rotate(-90)"><text x="-530.27" y="468.42" font-size="19.20" textLength="192.71" lengthAdjust="spacingAndGlyphs" fill="#111">% Synchronous spikes</text></g>
<text x="527.77" y="584.82" font-size="19.20" textLength="200.25" lengthAdjust="spacingAndGlyphs" fill="#111">Time lag window (± ms)</text>
</svg>
</body></html>
